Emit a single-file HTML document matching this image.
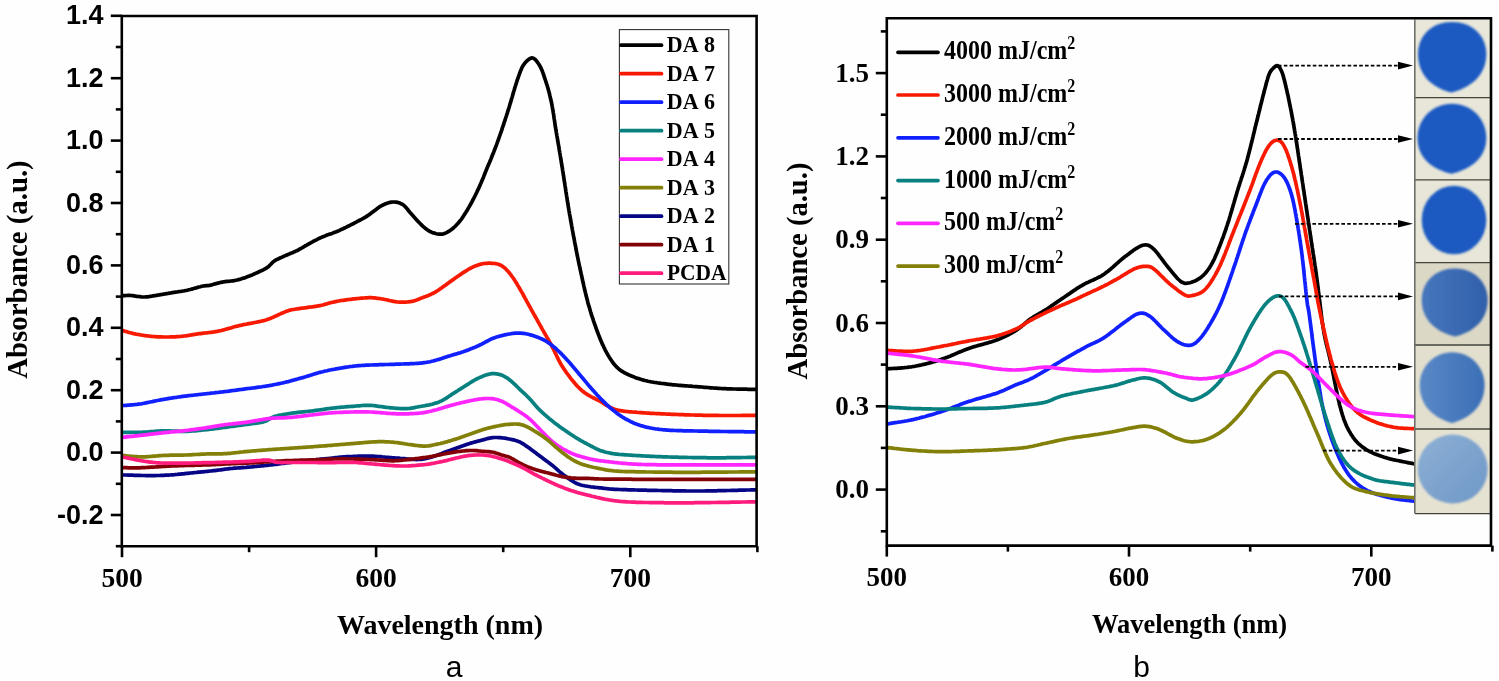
<!DOCTYPE html>
<html><head><meta charset="utf-8"><title>Absorbance spectra</title>
<style>html,body{margin:0;padding:0;background:#fff;}svg{display:block;will-change:transform;}.ser{font-family:"Liberation Serif",serif;font-weight:bold;}.san{font-family:"Liberation Sans",sans-serif;}</style>
</head><body>
<svg width="1499" height="681" viewBox="0 0 1499 681">
<rect width="1499" height="681" fill="#fefefe"/>
<defs><filter id="bl" x="-10%" y="-10%" width="120%" height="120%"><feGaussianBlur stdDeviation="0.9"/></filter><filter id="bl2" x="-10%" y="-10%" width="120%" height="120%"><feGaussianBlur stdDeviation="1.6"/></filter><clipPath id="clipA"><rect x="122" y="16" width="635" height="530"/></clipPath><clipPath id="clipB"><rect x="887" y="18" width="528" height="528"/></clipPath></defs>
<g clip-path="url(#clipA)" fill="none" stroke-width="3.7" stroke-linejoin="round" stroke-linecap="round">
<path d="M122.0,295.9L123.6,295.7L125.0,295.6L126.5,295.5L128.0,295.4L129.5,295.4L131.0,295.5L132.5,295.6L133.9,295.8L135.4,296.1L136.9,296.3L138.4,296.5L139.9,296.7L141.4,296.9L142.9,297.0L144.4,297.0L145.9,296.9L147.4,296.8L148.8,296.6L150.3,296.3L151.8,296.1L153.3,295.8L154.8,295.6L156.3,295.4L157.7,295.1L159.2,294.9L160.7,294.6L162.2,294.4L163.7,294.1L165.1,293.9L166.6,293.6L168.1,293.4L169.6,293.1L171.0,292.9L172.5,292.6L174.0,292.4L175.5,292.2L177.0,292.0L178.5,291.7L179.9,291.5L181.4,291.3L182.9,291.0L184.4,290.8L185.9,290.5L187.3,290.2L188.8,289.8L190.2,289.5L191.7,289.1L193.1,288.7L194.6,288.3L196.0,287.9L197.5,287.4L198.9,287.0L200.4,286.7L201.8,286.3L203.3,286.0L204.8,285.8L206.3,285.7L207.8,285.6L209.2,285.4L210.7,285.1L212.2,284.7L213.6,284.3L215.1,283.9L216.5,283.5L218.0,283.1L219.4,282.7L220.9,282.4L222.3,282.1L223.8,281.8L225.3,281.6L226.8,281.4L228.3,281.3L229.8,281.2L231.3,281.0L232.8,280.8L234.2,280.6L235.7,280.3L237.2,280.0L238.6,279.6L240.1,279.2L241.5,278.8L242.9,278.3L244.4,277.9L245.8,277.4L247.2,276.8L248.6,276.3L250.0,275.8L251.4,275.2L252.8,274.6L254.1,274.0L255.5,273.4L256.9,272.8L258.2,272.2L259.6,271.5L261.0,270.9L262.3,270.3L263.7,269.6L265.0,268.9L266.3,268.2L267.5,267.3L268.7,266.4L269.8,265.3L270.8,264.3L271.8,263.2L272.9,262.2L274.1,261.2L275.3,260.4L276.6,259.6L278.0,259.0L279.3,258.3L280.7,257.7L282.1,257.1L283.4,256.5L284.8,255.9L286.2,255.3L287.5,254.7L288.9,254.1L290.3,253.5L291.7,252.9L293.1,252.4L294.5,251.7L295.8,251.1L297.2,250.5L298.5,249.8L299.8,249.0L301.1,248.3L302.4,247.6L303.7,246.8L305.0,246.0L306.3,245.3L307.6,244.5L308.9,243.8L310.2,243.1L311.5,242.4L312.9,241.7L314.2,240.9L315.5,240.3L316.9,239.6L318.2,238.9L319.5,238.2L320.9,237.6L322.3,237.0L323.7,236.4L325.1,235.9L326.5,235.3L327.9,234.8L329.3,234.3L330.7,233.9L332.1,233.4L333.5,232.8L334.9,232.3L336.3,231.8L337.7,231.2L339.1,230.6L340.4,229.9L341.8,229.3L343.2,228.7L344.5,228.0L345.9,227.4L347.2,226.7L348.6,226.0L349.9,225.4L351.2,224.7L352.6,224.0L353.9,223.3L355.2,222.6L356.6,221.9L357.9,221.2L359.2,220.5L360.5,219.8L361.9,219.1L363.2,218.4L364.5,217.6L365.8,216.9L367.0,216.1L368.3,215.2L369.5,214.4L370.7,213.5L371.9,212.6L373.1,211.7L374.3,210.8L375.5,209.9L376.7,209.0L377.9,208.1L379.1,207.2L380.4,206.4L381.7,205.7L383.0,205.0L384.4,204.3L385.7,203.7L387.2,203.2L388.6,202.7L390.0,202.4L391.5,202.1L393.0,202.0L394.5,202.0L396.0,202.2L397.5,202.4L398.9,202.8L400.3,203.3L401.7,204.0L402.9,204.7L404.1,205.7L405.2,206.7L406.2,207.8L407.2,208.9L408.1,210.1L409.0,211.3L410.0,212.4L411.0,213.6L412.0,214.7L413.0,215.8L414.0,216.9L415.0,218.1L416.0,219.2L417.0,220.3L418.0,221.4L419.1,222.5L420.1,223.5L421.2,224.6L422.2,225.6L423.3,226.7L424.5,227.7L425.6,228.6L426.8,229.5L428.1,230.3L429.4,231.1L430.7,231.8L432.1,232.4L433.5,232.9L434.9,233.3L436.3,233.7L437.8,234.0L439.3,234.2L440.8,234.2L442.3,234.1L443.7,233.7L445.1,233.2L446.5,232.6L447.8,231.9L449.1,231.1L450.3,230.3L451.5,229.4L452.7,228.5L453.9,227.5L455.0,226.5L456.0,225.4L457.1,224.3L458.1,223.2L459.1,222.1L460.0,220.9L460.9,219.8L461.8,218.6L462.7,217.3L463.5,216.1L464.3,214.8L465.1,213.5L465.9,212.3L466.7,211.0L467.5,209.7L468.2,208.4L469.0,207.1L469.7,205.8L470.5,204.5L471.2,203.2L471.9,201.9L472.6,200.5L473.3,199.2L474.0,197.9L474.7,196.5L475.3,195.2L476.0,193.9L476.7,192.5L477.3,191.1L477.9,189.8L478.6,188.4L479.2,187.1L479.8,185.7L480.4,184.3L481.0,183.0L481.6,181.6L482.2,180.2L482.8,178.8L483.4,177.4L483.9,176.0L484.5,174.6L485.0,173.2L485.6,171.8L486.1,170.4L486.7,169.0L487.2,167.7L487.8,166.3L488.4,164.9L489.0,163.5L489.6,162.2L490.2,160.8L490.8,159.4L491.3,158.0L491.9,156.6L492.4,155.2L493.0,153.8L493.6,152.4L494.1,151.0L494.7,149.6L495.2,148.2L495.7,146.8L496.3,145.4L496.8,144.0L497.3,142.6L497.8,141.2L498.3,139.8L498.8,138.4L499.3,137.0L499.8,135.5L500.3,134.1L500.8,132.7L501.3,131.3L501.8,129.9L502.2,128.4L502.7,127.0L503.2,125.6L503.7,124.2L504.1,122.7L504.6,121.3L505.1,119.9L505.5,118.5L506.0,117.0L506.5,115.6L506.9,114.2L507.4,112.8L507.8,111.3L508.3,109.9L508.7,108.5L509.2,107.0L509.6,105.6L510.0,104.2L510.5,102.7L510.9,101.3L511.3,99.8L511.7,98.4L512.2,97.0L512.6,95.5L513.0,94.1L513.4,92.6L513.8,91.2L514.3,89.8L514.7,88.3L515.1,86.9L515.6,85.5L516.0,84.0L516.5,82.6L516.9,81.2L517.4,79.7L517.9,78.3L518.4,76.9L518.9,75.5L519.4,74.1L519.9,72.7L520.4,71.3L521.0,69.9L521.6,68.5L522.2,67.1L523.0,65.8L523.8,64.6L524.7,63.4L525.6,62.2L526.7,61.1L527.8,60.1L529.0,59.2L530.2,58.4L531.5,57.9L532.9,58.0L534.1,58.7L535.3,59.6L536.3,60.7L537.2,61.9L538.1,63.1L538.9,64.4L539.7,65.6L540.4,66.9L541.1,68.3L541.7,69.7L542.3,71.1L542.8,72.5L543.3,73.9L543.8,75.3L544.2,76.7L544.7,78.1L545.2,79.6L545.7,81.0L546.1,82.4L546.6,83.8L547.1,85.3L547.5,86.7L547.9,88.1L548.3,89.6L548.7,91.0L549.1,92.5L549.5,93.9L549.8,95.4L550.2,96.9L550.5,98.3L550.8,99.8L551.2,101.2L551.5,102.7L551.8,104.2L552.1,105.7L552.3,107.1L552.6,108.6L552.9,110.1L553.1,111.6L553.3,113.0L553.6,114.5L553.8,116.0L554.0,117.5L554.2,119.0L554.5,120.5L554.7,122.0L554.9,123.4L555.1,124.9L555.3,126.4L555.6,127.9L555.8,129.4L556.1,130.8L556.3,132.3L556.6,133.8L556.8,135.3L557.1,136.8L557.3,138.2L557.6,139.7L557.8,141.2L558.1,142.7L558.3,144.2L558.6,145.6L558.9,147.1L559.1,148.6L559.3,150.1L559.6,151.6L559.8,153.0L560.1,154.5L560.3,156.0L560.6,157.5L560.8,159.0L561.1,160.4L561.3,161.9L561.5,163.4L561.8,164.9L562.0,166.4L562.3,167.8L562.5,169.3L562.7,170.8L563.0,172.3L563.2,173.8L563.4,175.2L563.7,176.7L563.9,178.2L564.1,179.7L564.3,181.2L564.6,182.7L564.8,184.1L565.0,185.6L565.3,187.1L565.5,188.6L565.7,190.1L565.9,191.6L566.2,193.0L566.4,194.5L566.6,196.0L566.9,197.5L567.1,199.0L567.3,200.5L567.6,201.9L567.8,203.4L568.1,204.9L568.3,206.4L568.5,207.9L568.8,209.3L569.0,210.8L569.3,212.3L569.5,213.8L569.8,215.3L570.1,216.7L570.3,218.2L570.6,219.7L570.8,221.2L571.1,222.6L571.4,224.1L571.6,225.6L571.9,227.1L572.2,228.5L572.4,230.0L572.7,231.5L573.0,233.0L573.2,234.4L573.5,235.9L573.8,237.4L574.1,238.9L574.4,240.3L574.6,241.8L574.9,243.3L575.2,244.8L575.5,246.2L575.8,247.7L576.0,249.2L576.3,250.7L576.6,252.1L576.9,253.6L577.2,255.1L577.5,256.5L577.8,258.0L578.1,259.5L578.4,261.0L578.7,262.4L579.0,263.9L579.3,265.4L579.7,266.8L580.0,268.3L580.3,269.8L580.6,271.2L580.9,272.7L581.2,274.2L581.6,275.6L581.9,277.1L582.2,278.6L582.5,280.0L582.8,281.5L583.2,283.0L583.5,284.4L583.8,285.9L584.2,287.3L584.5,288.8L584.8,290.3L585.2,291.7L585.5,293.2L585.9,294.6L586.2,296.1L586.6,297.6L587.0,299.0L587.4,300.5L587.7,301.9L588.1,303.4L588.5,304.8L588.9,306.2L589.4,307.7L589.8,309.1L590.2,310.6L590.6,312.0L591.1,313.4L591.5,314.9L592.0,316.3L592.5,317.7L593.0,319.1L593.4,320.6L593.9,322.0L594.4,323.4L594.9,324.8L595.4,326.2L595.9,327.6L596.4,329.1L596.9,330.5L597.5,331.9L598.0,333.3L598.5,334.7L599.1,336.1L599.6,337.5L600.2,338.9L600.7,340.3L601.3,341.6L601.9,343.0L602.5,344.4L603.2,345.7L603.8,347.1L604.5,348.4L605.1,349.8L605.8,351.1L606.5,352.4L607.3,353.8L608.0,355.1L608.8,356.4L609.5,357.6L610.3,358.9L611.2,360.1L612.0,361.4L612.9,362.6L613.8,363.8L614.8,364.9L615.8,366.1L616.8,367.2L617.9,368.2L619.0,369.2L620.2,370.1L621.4,370.9L622.7,371.7L624.0,372.5L625.3,373.2L626.7,373.8L628.0,374.5L629.4,375.1L630.8,375.7L632.2,376.3L633.6,376.8L635.0,377.4L636.4,377.9L637.8,378.4L639.2,378.8L640.6,379.3L642.1,379.7L643.5,380.1L645.0,380.5L646.4,380.8L647.9,381.2L649.4,381.5L650.8,381.8L652.3,382.0L653.8,382.3L655.3,382.5L656.8,382.7L658.2,383.0L659.7,383.2L661.2,383.4L662.7,383.5L664.2,383.7L665.7,383.9L667.2,384.1L668.7,384.3L670.2,384.4L671.7,384.6L673.1,384.8L674.6,384.9L676.1,385.0L677.6,385.2L679.1,385.3L680.6,385.4L682.1,385.6L683.6,385.7L685.1,385.8L686.6,385.9L688.1,386.0L689.6,386.1L691.1,386.2L692.6,386.4L694.1,386.5L695.6,386.6L697.1,386.7L698.6,386.8L700.1,386.9L701.6,387.0L703.1,387.2L704.5,387.3L706.0,387.4L707.5,387.5L709.0,387.6L710.5,387.8L712.0,387.9L713.5,388.0L715.0,388.1L716.5,388.2L718.0,388.3L719.5,388.4L721.0,388.5L722.5,388.6L724.0,388.7L725.5,388.7L727.0,388.8L728.5,388.8L730.0,388.9L731.5,388.9L733.0,389.0L734.5,389.0L736.0,389.0L737.5,389.1L739.0,389.1L740.5,389.1L742.0,389.2L743.5,389.2L745.0,389.2L746.5,389.2L748.0,389.3L749.5,389.3L751.0,389.3L752.5,389.3L754.0,389.4L755.2,389.4L756.0,389.4" stroke="#000000"/>
<path d="M122.0,330.4L123.8,330.9L125.0,331.3L126.3,331.6L127.8,332.1L129.2,332.5L130.7,332.8L132.1,333.2L133.6,333.6L135.0,333.9L136.5,334.2L138.0,334.5L139.5,334.7L140.9,335.0L142.4,335.2L143.9,335.5L145.4,335.7L146.9,335.8L148.4,336.0L149.9,336.2L151.3,336.3L152.8,336.5L154.3,336.6L155.8,336.7L157.3,336.8L158.8,336.8L160.3,336.9L161.8,336.9L163.3,337.0L164.8,337.0L166.3,337.0L167.8,337.0L169.3,337.0L170.8,336.9L172.3,336.9L173.8,336.8L175.3,336.8L176.8,336.7L178.3,336.6L179.8,336.5L181.3,336.3L182.8,336.2L184.3,336.0L185.8,335.8L187.3,335.6L188.7,335.3L190.2,335.1L191.7,334.8L193.2,334.6L194.7,334.4L196.2,334.2L197.6,333.9L199.1,333.7L200.6,333.6L202.1,333.4L203.6,333.2L205.1,333.0L206.6,332.8L208.1,332.7L209.5,332.5L211.0,332.3L212.5,332.1L214.0,331.9L215.5,331.6L217.0,331.4L218.4,331.1L219.9,330.8L221.4,330.5L222.8,330.1L224.3,329.7L225.7,329.3L227.2,328.9L228.6,328.5L230.1,328.1L231.5,327.7L232.9,327.2L234.4,326.8L235.8,326.4L237.3,326.1L238.7,325.7L240.2,325.4L241.7,325.1L243.1,324.7L244.6,324.5L246.1,324.2L247.5,323.9L249.0,323.6L250.5,323.3L252.0,323.1L253.4,322.8L254.9,322.5L256.4,322.2L257.9,321.9L259.3,321.6L260.8,321.3L262.3,320.9L263.7,320.6L265.2,320.2L266.6,319.8L268.0,319.3L269.4,318.8L270.8,318.2L272.2,317.6L273.6,317.0L274.9,316.4L276.3,315.8L277.7,315.2L279.0,314.5L280.4,313.9L281.7,313.3L283.1,312.7L284.5,312.1L285.9,311.5L287.3,311.0L288.7,310.6L290.2,310.1L291.6,309.8L293.1,309.5L294.6,309.3L296.1,309.0L297.5,308.8L299.0,308.6L300.5,308.4L302.0,308.2L303.5,308.0L305.0,307.8L306.5,307.6L307.9,307.4L309.4,307.2L310.9,307.0L312.4,306.8L313.9,306.6L315.4,306.4L316.9,306.2L318.3,305.9L319.8,305.7L321.3,305.3L322.7,305.0L324.2,304.6L325.6,304.1L327.0,303.7L328.5,303.2L329.9,302.9L331.4,302.5L332.8,302.2L334.3,301.9L335.8,301.6L337.2,301.3L338.7,301.0L340.2,300.7L341.7,300.5L343.2,300.3L344.6,300.1L346.1,299.9L347.6,299.7L349.1,299.5L350.6,299.3L352.1,299.1L353.6,298.9L355.1,298.8L356.6,298.6L358.1,298.5L359.6,298.3L361.0,298.2L362.5,298.1L364.0,298.0L365.5,297.9L367.0,297.8L368.5,297.7L370.0,297.7L371.5,297.7L373.0,297.8L374.5,297.9L376.0,298.1L377.5,298.3L379.0,298.5L380.5,298.7L381.9,299.0L383.4,299.2L384.9,299.5L386.4,299.8L387.8,300.1L389.3,300.5L390.7,300.8L392.2,301.1L393.7,301.4L395.2,301.7L396.6,301.9L398.1,302.0L399.6,302.1L401.1,302.1L402.6,302.2L404.1,302.1L405.6,302.1L407.1,302.0L408.6,301.8L410.1,301.7L411.6,301.4L413.1,301.1L414.5,300.7L415.9,300.3L417.3,299.8L418.7,299.2L420.1,298.6L421.5,298.1L422.9,297.5L424.3,297.0L425.7,296.5L427.1,295.9L428.5,295.4L429.9,294.8L431.2,294.1L432.6,293.5L433.9,292.8L435.2,292.1L436.5,291.3L437.8,290.5L439.0,289.7L440.3,288.8L441.5,288.0L442.7,287.1L443.9,286.2L445.2,285.4L446.4,284.5L447.6,283.6L448.8,282.7L450.0,281.8L451.2,280.9L452.4,280.1L453.7,279.2L454.9,278.3L456.1,277.5L457.4,276.6L458.6,275.8L459.8,274.9L461.1,274.1L462.3,273.2L463.6,272.4L464.8,271.6L466.1,270.8L467.4,270.0L468.6,269.2L470.0,268.5L471.3,267.8L472.6,267.1L474.0,266.5L475.4,265.9L476.8,265.4L478.2,264.9L479.6,264.5L481.1,264.1L482.5,263.8L484.0,263.5L485.5,263.4L487.0,263.3L488.5,263.2L490.0,263.2L491.5,263.3L493.0,263.3L494.5,263.5L495.9,263.7L497.4,264.0L498.8,264.4L500.2,265.0L501.5,265.7L502.8,266.5L504.0,267.4L505.1,268.3L506.2,269.4L507.2,270.5L508.2,271.6L509.2,272.7L510.1,273.9L511.1,275.1L511.9,276.3L512.8,277.5L513.7,278.7L514.5,280.0L515.3,281.2L516.1,282.5L516.9,283.8L517.6,285.1L518.4,286.4L519.2,287.7L519.9,289.0L520.7,290.3L521.4,291.6L522.2,292.9L522.9,294.2L523.6,295.5L524.3,296.8L525.0,298.1L525.8,299.4L526.5,300.8L527.2,302.1L527.9,303.4L528.6,304.7L529.4,306.0L530.1,307.3L530.8,308.7L531.5,310.0L532.3,311.3L533.0,312.6L533.7,313.9L534.5,315.2L535.2,316.5L535.9,317.8L536.7,319.1L537.4,320.4L538.1,321.8L538.9,323.1L539.6,324.4L540.3,325.7L541.1,327.0L541.8,328.3L542.5,329.6L543.3,330.9L544.0,332.2L544.8,333.5L545.5,334.8L546.3,336.1L547.0,337.4L547.8,338.7L548.5,340.0L549.3,341.3L550.0,342.6L550.7,343.9L551.4,345.2L552.1,346.6L552.8,347.9L553.5,349.3L554.1,350.6L554.8,352.0L555.4,353.3L556.1,354.7L556.7,356.0L557.4,357.4L558.0,358.7L558.7,360.1L559.4,361.4L560.1,362.7L560.8,364.0L561.6,365.3L562.4,366.6L563.2,367.8L564.0,369.1L564.9,370.3L565.7,371.6L566.6,372.8L567.5,374.0L568.4,375.2L569.3,376.4L570.2,377.6L571.1,378.8L572.0,380.0L573.0,381.1L574.0,382.3L574.9,383.4L575.9,384.5L576.9,385.7L577.9,386.7L579.0,387.8L580.1,388.9L581.2,389.9L582.3,390.9L583.5,391.8L584.6,392.7L585.9,393.6L587.1,394.4L588.4,395.2L589.7,395.9L591.0,396.6L592.4,397.3L593.7,398.0L595.0,398.7L596.4,399.3L597.7,400.0L599.0,400.7L600.4,401.5L601.7,402.2L602.9,403.0L604.2,403.8L605.5,404.6L606.7,405.4L608.0,406.2L609.3,406.9L610.7,407.6L612.0,408.2L613.4,408.8L614.8,409.3L616.3,409.7L617.7,410.1L619.2,410.4L620.6,410.7L622.1,410.9L623.6,411.1L625.1,411.3L626.6,411.5L628.1,411.6L629.6,411.8L631.1,411.9L632.6,412.0L634.1,412.1L635.6,412.2L637.1,412.4L638.5,412.5L640.0,412.6L641.5,412.7L643.0,412.8L644.5,412.9L646.0,413.0L647.5,413.1L649.0,413.2L650.5,413.3L652.0,413.4L653.5,413.4L655.0,413.5L656.5,413.6L658.0,413.7L659.5,413.7L661.0,413.8L662.5,413.9L664.0,413.9L665.5,414.0L667.0,414.1L668.5,414.1L670.0,414.2L671.5,414.3L673.0,414.3L674.5,414.4L676.0,414.4L677.5,414.5L679.0,414.6L680.5,414.6L682.0,414.7L683.5,414.7L685.0,414.8L686.5,414.8L688.0,414.9L689.5,414.9L691.0,415.0L692.5,415.0L694.0,415.0L695.5,415.1L697.0,415.1L698.5,415.2L700.0,415.2L701.5,415.2L703.0,415.3L704.5,415.3L706.0,415.3L707.5,415.3L709.0,415.4L710.5,415.4L712.0,415.4L713.5,415.4L715.0,415.4L716.5,415.4L718.0,415.4L719.5,415.5L721.0,415.5L722.5,415.5L724.0,415.5L725.5,415.5L727.0,415.5L728.5,415.5L730.0,415.5L731.5,415.5L733.0,415.5L734.5,415.5L736.0,415.5L737.5,415.5L739.0,415.5L740.5,415.5L742.0,415.4L743.5,415.4L745.0,415.4L746.5,415.4L748.0,415.4L749.5,415.4L751.0,415.4L752.4,415.4L753.8,415.4L754.9,415.4L756.0,415.4" stroke="#f81a00"/>
<path d="M122.0,405.6L123.8,405.5L125.1,405.4L126.5,405.3L128.0,405.2L129.5,405.1L131.0,404.9L132.5,404.8L134.0,404.7L135.5,404.5L137.0,404.4L138.4,404.2L139.9,404.0L141.4,403.8L142.9,403.5L144.4,403.2L145.8,402.9L147.3,402.6L148.8,402.3L150.2,402.0L151.7,401.7L153.2,401.4L154.6,401.1L156.1,400.8L157.6,400.5L159.1,400.2L160.5,399.9L162.0,399.6L163.5,399.4L165.0,399.1L166.4,398.9L167.9,398.6L169.4,398.4L170.9,398.2L172.4,397.9L173.9,397.7L175.3,397.5L176.8,397.3L178.3,397.0L179.8,396.8L181.3,396.6L182.8,396.4L184.3,396.2L185.7,396.1L187.2,395.9L188.7,395.7L190.2,395.5L191.7,395.3L193.2,395.2L194.7,395.0L196.2,394.8L197.7,394.7L199.2,394.5L200.6,394.3L202.1,394.2L203.6,394.0L205.1,393.8L206.6,393.7L208.1,393.5L209.6,393.4L211.1,393.2L212.6,393.0L214.1,392.9L215.6,392.7L217.1,392.5L218.5,392.4L220.0,392.2L221.5,392.0L223.0,391.8L224.5,391.6L226.0,391.5L227.5,391.3L229.0,391.1L230.5,390.9L231.9,390.7L233.4,390.5L234.9,390.3L236.4,390.1L237.9,389.9L239.4,389.7L240.9,389.5L242.4,389.3L243.8,389.1L245.3,388.9L246.8,388.7L248.3,388.5L249.8,388.3L251.3,388.2L252.8,388.0L254.3,387.8L255.7,387.6L257.2,387.4L258.7,387.2L260.2,387.0L261.7,386.8L263.2,386.5L264.7,386.3L266.1,386.1L267.6,385.8L269.1,385.6L270.6,385.3L272.1,385.1L273.5,384.8L275.0,384.5L276.5,384.2L277.9,383.9L279.4,383.6L280.9,383.3L282.3,383.0L283.8,382.6L285.3,382.3L286.7,381.9L288.2,381.6L289.6,381.2L291.1,380.8L292.5,380.4L294.0,380.0L295.4,379.6L296.9,379.2L298.3,378.8L299.8,378.4L301.2,378.0L302.7,377.6L304.1,377.2L305.5,376.8L307.0,376.3L308.4,375.9L309.8,375.4L311.3,375.0L312.7,374.5L314.1,374.1L315.6,373.6L317.0,373.2L318.4,372.8L319.9,372.4L321.3,372.0L322.8,371.7L324.3,371.3L325.7,371.0L327.2,370.7L328.7,370.3L330.1,370.0L331.6,369.7L333.1,369.5L334.5,369.2L336.0,368.9L337.5,368.6L339.0,368.4L340.4,368.1L341.9,367.9L343.4,367.6L344.9,367.4L346.4,367.2L347.9,367.0L349.3,366.7L350.8,366.5L352.3,366.4L353.8,366.2L355.3,366.0L356.8,365.8L358.3,365.7L359.8,365.6L361.3,365.5L362.8,365.4L364.3,365.3L365.8,365.2L367.3,365.2L368.8,365.1L370.3,365.0L371.8,365.0L373.3,364.9L374.8,364.9L376.3,364.8L377.8,364.8L379.3,364.7L380.8,364.7L382.3,364.6L383.8,364.6L385.3,364.5L386.8,364.5L388.3,364.5L389.8,364.4L391.3,364.4L392.8,364.3L394.3,364.3L395.8,364.2L397.3,364.2L398.8,364.1L400.3,364.1L401.8,364.0L403.3,364.0L404.8,363.9L406.3,363.9L407.8,363.8L409.3,363.8L410.8,363.7L412.3,363.7L413.8,363.6L415.3,363.5L416.7,363.4L418.2,363.3L419.7,363.2L421.2,363.1L422.7,362.9L424.2,362.7L425.7,362.5L427.2,362.2L428.6,362.0L430.1,361.7L431.6,361.3L433.0,361.0L434.5,360.6L435.9,360.2L437.4,359.8L438.8,359.4L440.3,358.9L441.7,358.5L443.1,358.0L444.5,357.5L445.9,357.0L447.4,356.6L448.8,356.1L450.2,355.7L451.7,355.2L453.1,354.8L454.6,354.4L456.0,354.0L457.4,353.6L458.9,353.1L460.3,352.7L461.7,352.2L463.2,351.8L464.6,351.3L466.0,350.8L467.4,350.2L468.8,349.7L470.2,349.1L471.6,348.6L473.0,348.0L474.4,347.4L475.7,346.9L477.1,346.3L478.5,345.7L479.8,345.0L481.2,344.4L482.5,343.7L483.9,343.0L485.2,342.2L486.5,341.5L487.8,340.8L489.1,340.1L490.4,339.4L491.8,338.8L493.2,338.2L494.6,337.7L496.0,337.2L497.4,336.8L498.9,336.4L500.3,336.0L501.8,335.6L503.2,335.2L504.7,334.9L506.2,334.6L507.6,334.3L509.1,334.0L510.6,333.8L512.1,333.5L513.6,333.3L515.1,333.2L516.6,333.1L518.1,333.1L519.6,333.1L521.0,333.1L522.5,333.3L524.0,333.4L525.5,333.7L527.0,334.0L528.4,334.3L529.9,334.7L531.3,335.1L532.8,335.5L534.2,336.0L535.6,336.5L537.0,337.0L538.4,337.5L539.8,338.1L541.2,338.7L542.5,339.3L543.9,340.0L545.2,340.7L546.5,341.5L547.7,342.3L549.0,343.1L550.2,344.0L551.4,344.9L552.6,345.8L553.8,346.8L554.9,347.7L556.0,348.7L557.1,349.8L558.2,350.8L559.3,351.8L560.4,352.9L561.4,353.9L562.5,355.0L563.5,356.1L564.6,357.2L565.6,358.3L566.6,359.4L567.6,360.5L568.6,361.6L569.6,362.7L570.6,363.8L571.6,365.0L572.5,366.1L573.5,367.3L574.5,368.4L575.4,369.6L576.4,370.7L577.4,371.9L578.3,373.0L579.3,374.2L580.3,375.3L581.2,376.5L582.2,377.6L583.2,378.8L584.1,379.9L585.1,381.1L586.0,382.2L587.0,383.4L588.0,384.5L588.9,385.7L589.9,386.8L590.9,388.0L591.9,389.1L592.9,390.2L593.9,391.3L594.9,392.4L595.9,393.6L596.9,394.7L597.9,395.7L599.0,396.8L600.0,397.9L601.0,399.0L602.1,400.1L603.1,401.1L604.2,402.2L605.3,403.2L606.4,404.3L607.5,405.3L608.6,406.3L609.7,407.3L610.8,408.3L612.0,409.2L613.1,410.2L614.3,411.1L615.5,412.1L616.7,413.0L617.9,413.9L619.1,414.8L620.3,415.6L621.6,416.5L622.8,417.3L624.1,418.0L625.4,418.8L626.7,419.5L628.0,420.2L629.4,420.9L630.7,421.6L632.1,422.2L633.4,422.9L634.8,423.4L636.2,424.0L637.6,424.5L639.0,425.0L640.5,425.5L641.9,425.9L643.3,426.3L644.8,426.7L646.2,427.1L647.7,427.4L649.2,427.7L650.6,428.0L652.1,428.3L653.6,428.5L655.1,428.8L656.6,429.0L658.0,429.2L659.5,429.4L661.0,429.5L662.5,429.7L664.0,429.8L665.5,429.9L667.0,430.1L668.5,430.2L670.0,430.3L671.5,430.3L673.0,430.4L674.5,430.5L676.0,430.5L677.5,430.6L679.0,430.6L680.5,430.7L682.0,430.7L683.5,430.8L685.0,430.8L686.5,430.8L688.0,430.9L689.5,430.9L691.0,430.9L692.5,430.9L694.0,431.0L695.5,431.0L697.0,431.0L698.5,431.1L700.0,431.1L701.5,431.1L703.0,431.2L704.5,431.2L706.0,431.2L707.5,431.2L709.0,431.3L710.5,431.3L712.0,431.3L713.5,431.3L715.0,431.4L716.5,431.4L718.0,431.4L719.5,431.4L721.0,431.5L722.5,431.5L724.0,431.5L725.5,431.5L727.0,431.5L728.5,431.6L730.0,431.6L731.5,431.6L733.0,431.6L734.5,431.6L736.0,431.6L737.5,431.7L739.0,431.7L740.5,431.7L742.0,431.7L743.5,431.7L745.0,431.8L746.5,431.8L748.0,431.8L749.5,431.8L751.0,431.8L752.4,431.9L753.8,431.9L754.9,431.9L756.0,431.9" stroke="#1020ff"/>
<path d="M122.0,432.3L123.8,432.3L125.1,432.3L126.5,432.3L128.0,432.4L129.5,432.4L131.0,432.4L132.5,432.4L134.0,432.4L135.5,432.4L137.0,432.4L138.5,432.4L140.0,432.3L141.5,432.3L143.0,432.2L144.5,432.2L146.0,432.1L147.5,432.0L149.0,431.8L150.5,431.7L152.0,431.6L153.5,431.5L155.0,431.3L156.5,431.2L158.0,431.1L159.5,431.0L161.0,430.9L162.5,430.9L164.0,430.8L165.5,430.8L167.0,430.8L168.5,430.8L170.0,430.9L171.5,431.0L173.0,431.0L174.5,431.1L175.9,431.2L177.4,431.2L178.9,431.3L180.4,431.4L181.9,431.4L183.4,431.4L184.9,431.4L186.4,431.4L187.9,431.3L189.4,431.2L190.9,431.1L192.4,431.0L193.9,430.9L195.4,430.8L196.9,430.7L198.4,430.5L199.9,430.4L201.4,430.2L202.9,430.0L204.4,429.9L205.9,429.7L207.4,429.6L208.9,429.4L210.3,429.2L211.8,429.1L213.3,428.9L214.8,428.7L216.3,428.5L217.8,428.3L219.3,428.1L220.8,427.9L222.3,427.7L223.7,427.5L225.2,427.3L226.7,427.1L228.2,426.9L229.7,426.7L231.2,426.5L232.7,426.3L234.2,426.1L235.6,425.9L237.1,425.7L238.6,425.5L240.1,425.3L241.6,425.1L243.1,424.9L244.6,424.7L246.1,424.5L247.5,424.3L249.0,424.1L250.5,423.9L252.0,423.7L253.5,423.5L255.0,423.3L256.5,423.1L257.9,422.9L259.4,422.6L260.9,422.4L262.4,422.1L263.8,421.7L265.2,421.3L266.6,420.7L267.9,420.0L269.2,419.2L270.4,418.4L271.7,417.7L273.1,417.1L274.5,416.6L275.9,416.1L277.4,415.8L278.8,415.4L280.3,415.1L281.8,414.9L283.2,414.6L284.7,414.3L286.2,414.1L287.7,413.8L289.2,413.6L290.6,413.4L292.1,413.2L293.6,412.9L295.1,412.8L296.6,412.6L298.1,412.4L299.6,412.2L301.1,412.1L302.6,411.9L304.1,411.8L305.5,411.6L307.0,411.5L308.5,411.3L310.0,411.1L311.5,411.0L313.0,410.8L314.5,410.6L316.0,410.4L317.5,410.2L318.9,410.0L320.4,409.8L321.9,409.6L323.4,409.4L324.9,409.1L326.4,408.9L327.9,408.7L329.3,408.5L330.8,408.3L332.3,408.1L333.8,408.0L335.3,407.8L336.8,407.6L338.3,407.5L339.8,407.3L341.3,407.2L342.8,407.1L344.3,407.0L345.8,406.8L347.3,406.7L348.8,406.6L350.3,406.5L351.7,406.4L353.2,406.3L354.7,406.2L356.2,406.0L357.7,405.9L359.2,405.8L360.7,405.7L362.2,405.5L363.7,405.4L365.2,405.4L366.7,405.3L368.2,405.3L369.7,405.4L371.2,405.4L372.7,405.5L374.2,405.7L375.7,405.9L377.2,406.1L378.6,406.3L380.1,406.5L381.6,406.7L383.1,406.9L384.6,407.1L386.1,407.3L387.6,407.5L389.1,407.6L390.6,407.8L392.1,407.9L393.5,408.0L395.0,408.2L396.5,408.3L398.0,408.4L399.5,408.5L401.0,408.6L402.5,408.6L404.0,408.7L405.5,408.7L407.0,408.6L408.5,408.5L410.0,408.3L411.5,408.1L413.0,407.9L414.4,407.6L415.9,407.3L417.4,407.0L418.9,406.7L420.3,406.5L421.8,406.2L423.3,406.0L424.8,405.7L426.2,405.4L427.7,405.2L429.2,404.9L430.7,404.5L432.1,404.2L433.6,403.8L435.0,403.3L436.4,402.9L437.8,402.4L439.2,401.9L440.6,401.3L442.0,400.6L443.3,399.9L444.6,399.2L445.9,398.4L447.1,397.6L448.4,396.7L449.6,395.9L450.9,395.1L452.1,394.2L453.4,393.4L454.6,392.6L455.9,391.8L457.2,391.0L458.4,390.2L459.7,389.4L461.0,388.6L462.2,387.8L463.5,387.0L464.8,386.2L466.0,385.4L467.3,384.6L468.6,383.8L469.8,383.0L471.1,382.2L472.4,381.4L473.7,380.6L475.0,379.9L476.3,379.2L477.6,378.5L479.0,377.9L480.4,377.2L481.7,376.7L483.1,376.1L484.5,375.6L486.0,375.1L487.4,374.6L488.8,374.2L490.3,373.9L491.8,373.7L493.2,373.6L494.7,373.7L496.2,373.8L497.7,374.1L499.2,374.4L500.6,374.8L502.0,375.3L503.4,375.9L504.7,376.6L506.0,377.3L507.3,378.1L508.5,379.0L509.7,379.9L510.9,380.8L512.0,381.8L513.1,382.8L514.2,383.8L515.3,384.8L516.3,385.9L517.4,387.0L518.5,388.0L519.5,389.1L520.6,390.1L521.7,391.2L522.8,392.2L523.9,393.2L525.0,394.2L526.1,395.2L527.2,396.3L528.3,397.3L529.3,398.4L530.3,399.5L531.3,400.6L532.3,401.7L533.3,402.9L534.3,404.0L535.2,405.2L536.2,406.3L537.2,407.4L538.2,408.5L539.3,409.6L540.3,410.7L541.4,411.7L542.5,412.7L543.6,413.7L544.7,414.7L545.9,415.7L547.0,416.7L548.2,417.6L549.3,418.6L550.5,419.6L551.7,420.5L552.8,421.4L554.0,422.4L555.2,423.3L556.4,424.2L557.6,425.1L558.8,426.0L560.0,426.9L561.2,427.8L562.4,428.6L563.7,429.5L564.9,430.3L566.1,431.2L567.4,432.0L568.6,432.9L569.9,433.7L571.1,434.5L572.4,435.3L573.6,436.2L574.9,437.0L576.2,437.8L577.5,438.5L578.8,439.3L580.0,440.1L581.3,440.8L582.7,441.5L584.0,442.3L585.3,443.0L586.6,443.7L587.9,444.4L589.3,445.1L590.6,445.8L591.9,446.5L593.2,447.2L594.6,447.9L595.9,448.6L597.3,449.2L598.6,449.8L600.0,450.4L601.4,450.9L602.9,451.3L604.3,451.8L605.8,452.2L607.2,452.5L608.7,452.8L610.1,453.1L611.6,453.4L613.1,453.7L614.6,453.9L616.1,454.1L617.6,454.2L619.0,454.4L620.5,454.5L622.0,454.6L623.5,454.7L625.0,454.8L626.5,454.9L628.0,455.0L629.5,455.1L631.0,455.2L632.5,455.3L634.0,455.4L635.5,455.5L637.0,455.6L638.5,455.6L640.0,455.7L641.5,455.8L643.0,455.9L644.5,456.0L646.0,456.1L647.5,456.1L649.0,456.2L650.5,456.3L652.0,456.4L653.5,456.4L655.0,456.5L656.5,456.6L658.0,456.6L659.5,456.7L661.0,456.7L662.5,456.8L664.0,456.9L665.5,456.9L667.0,456.9L668.5,457.0L670.0,457.0L671.5,457.1L673.0,457.1L674.5,457.2L676.0,457.2L677.5,457.2L679.0,457.3L680.5,457.3L682.0,457.3L683.5,457.4L685.0,457.4L686.5,457.4L688.0,457.5L689.5,457.5L691.0,457.5L692.5,457.6L694.0,457.6L695.5,457.6L697.0,457.6L698.5,457.7L700.0,457.7L701.5,457.7L703.0,457.7L704.5,457.7L706.0,457.7L707.5,457.8L709.0,457.8L710.5,457.8L712.0,457.8L713.5,457.8L715.0,457.8L716.5,457.8L718.0,457.8L719.5,457.8L721.0,457.8L722.5,457.8L724.0,457.8L725.5,457.8L727.0,457.7L728.5,457.7L730.0,457.7L731.5,457.7L733.0,457.7L734.5,457.7L736.0,457.6L737.5,457.6L739.0,457.6L740.5,457.6L742.0,457.5L743.5,457.5L745.0,457.5L746.5,457.5L748.0,457.4L749.5,457.4L751.0,457.4L752.4,457.4L753.8,457.3L754.9,457.3L756.0,457.3" stroke="#088080"/>
<path d="M122.0,437.4L123.8,437.2L125.1,437.1L126.5,436.9L128.0,436.7L129.5,436.6L131.0,436.4L132.4,436.3L133.9,436.1L135.4,435.9L136.9,435.8L138.4,435.6L139.9,435.4L141.4,435.3L142.9,435.1L144.4,434.9L145.9,434.8L147.4,434.6L148.9,434.4L150.3,434.2L151.8,434.1L153.3,433.9L154.8,433.7L156.3,433.6L157.8,433.4L159.3,433.2L160.8,433.1L162.3,432.9L163.8,432.7L165.3,432.6L166.8,432.4L168.3,432.3L169.7,432.1L171.2,432.0L172.7,431.8L174.2,431.7L175.7,431.6L177.2,431.4L178.7,431.3L180.2,431.1L181.7,431.0L183.2,430.8L184.7,430.6L186.2,430.5L187.7,430.3L189.2,430.1L190.6,429.9L192.1,429.7L193.6,429.5L195.1,429.3L196.6,429.1L198.1,428.9L199.6,428.7L201.1,428.5L202.5,428.3L204.0,428.1L205.5,427.9L207.0,427.6L208.5,427.4L210.0,427.2L211.4,426.9L212.9,426.7L214.4,426.4L215.9,426.2L217.4,425.9L218.8,425.7L220.3,425.4L221.8,425.2L223.3,425.0L224.8,424.7L226.3,424.5L227.8,424.4L229.2,424.2L230.7,424.0L232.2,423.9L233.7,423.7L235.2,423.6L236.7,423.4L238.2,423.2L239.7,423.1L241.2,422.9L242.7,422.7L244.2,422.6L245.7,422.4L247.1,422.2L248.6,421.9L250.1,421.7L251.6,421.4L253.1,421.2L254.5,420.9L256.0,420.6L257.5,420.4L259.0,420.1L260.4,419.8L261.9,419.6L263.4,419.3L264.9,419.1L266.4,418.9L267.9,418.7L269.3,418.5L270.8,418.3L272.3,418.2L273.8,418.1L275.3,418.1L276.8,418.0L278.3,417.9L279.8,417.9L281.3,417.8L282.8,417.8L284.3,417.8L285.8,417.7L287.3,417.6L288.8,417.5L290.3,417.4L291.8,417.3L293.3,417.2L294.8,417.0L296.3,416.9L297.8,416.7L299.3,416.5L300.8,416.3L302.3,416.1L303.8,415.9L305.2,415.7L306.7,415.6L308.2,415.4L309.7,415.2L311.2,415.0L312.7,414.8L314.2,414.7L315.7,414.5L317.2,414.3L318.7,414.1L320.1,414.0L321.6,413.8L323.1,413.6L324.6,413.4L326.1,413.3L327.6,413.2L329.1,413.0L330.6,412.9L332.1,412.8L333.6,412.7L335.1,412.6L336.6,412.5L338.1,412.5L339.6,412.4L341.1,412.3L342.6,412.3L344.1,412.2L345.6,412.2L347.1,412.1L348.6,412.1L350.1,412.0L351.6,412.0L353.1,412.0L354.6,411.9L356.1,411.9L357.6,411.9L359.1,411.9L360.6,411.9L362.1,411.9L363.6,411.9L365.1,411.9L366.6,411.9L368.1,411.9L369.6,412.0L371.1,412.0L372.6,412.1L374.1,412.2L375.6,412.3L377.1,412.4L378.6,412.5L380.1,412.6L381.6,412.8L383.1,412.9L384.6,413.0L386.1,413.1L387.6,413.3L389.1,413.4L390.6,413.5L392.1,413.6L393.6,413.7L395.1,413.7L396.6,413.8L398.1,413.8L399.6,413.8L401.1,413.8L402.6,413.8L404.1,413.8L405.6,413.8L407.1,413.8L408.6,413.8L410.1,413.7L411.6,413.6L413.1,413.6L414.6,413.5L416.1,413.4L417.6,413.3L419.1,413.2L420.5,413.0L422.0,412.8L423.5,412.6L425.0,412.4L426.5,412.1L428.0,411.8L429.4,411.5L430.9,411.2L432.3,410.8L433.8,410.4L435.2,410.0L436.7,409.7L438.1,409.2L439.6,408.8L441.0,408.4L442.4,407.9L443.9,407.5L445.3,407.0L446.7,406.6L448.2,406.2L449.6,405.8L451.1,405.4L452.5,405.0L454.0,404.6L455.4,404.2L456.9,403.8L458.3,403.5L459.8,403.1L461.2,402.7L462.7,402.4L464.2,402.1L465.6,401.7L467.1,401.4L468.6,401.1L470.0,400.8L471.5,400.5L473.0,400.2L474.5,399.9L475.9,399.7L477.4,399.4L478.9,399.2L480.4,399.0L481.9,398.8L483.4,398.7L484.9,398.6L486.4,398.5L487.9,398.5L489.4,398.5L490.9,398.6L492.4,398.7L493.8,398.9L495.3,399.2L496.8,399.5L498.2,399.9L499.6,400.4L501.0,400.9L502.4,401.5L503.7,402.2L505.1,402.9L506.4,403.7L507.6,404.4L508.9,405.2L510.2,406.0L511.5,406.8L512.8,407.5L514.1,408.3L515.4,409.1L516.6,409.9L517.9,410.7L519.1,411.5L520.4,412.3L521.7,413.2L522.9,414.0L524.1,414.8L525.4,415.7L526.6,416.6L527.8,417.5L528.9,418.5L530.1,419.4L531.2,420.4L532.3,421.5L533.3,422.5L534.4,423.6L535.4,424.7L536.5,425.8L537.5,426.9L538.5,427.9L539.6,429.0L540.6,430.1L541.7,431.2L542.7,432.2L543.8,433.3L544.8,434.4L545.9,435.5L546.9,436.5L548.0,437.6L549.1,438.6L550.2,439.7L551.3,440.7L552.4,441.6L553.6,442.6L554.8,443.5L556.0,444.4L557.2,445.3L558.4,446.1L559.7,446.9L561.0,447.7L562.3,448.5L563.5,449.3L564.9,450.0L566.2,450.7L567.5,451.4L568.9,452.0L570.2,452.7L571.6,453.3L573.0,453.9L574.4,454.4L575.8,455.0L577.2,455.4L578.6,455.9L580.1,456.3L581.5,456.7L583.0,457.1L584.4,457.5L585.9,457.9L587.3,458.3L588.8,458.6L590.2,459.0L591.7,459.3L593.2,459.6L594.6,459.9L596.1,460.1L597.6,460.4L599.1,460.6L600.6,460.8L602.1,461.0L603.5,461.1L605.0,461.3L606.5,461.5L608.0,461.7L609.5,461.9L611.0,462.0L612.5,462.2L614.0,462.4L615.5,462.5L617.0,462.7L618.5,462.9L620.0,463.0L621.4,463.1L622.9,463.3L624.4,463.4L625.9,463.5L627.4,463.7L628.9,463.8L630.4,463.9L631.9,464.0L633.4,464.1L634.9,464.2L636.4,464.2L637.9,464.3L639.4,464.4L640.9,464.4L642.4,464.5L643.9,464.5L645.4,464.6L646.9,464.6L648.4,464.6L649.9,464.7L651.4,464.7L652.9,464.7L654.4,464.7L655.9,464.7L657.4,464.8L658.9,464.8L660.4,464.8L661.9,464.8L663.4,464.8L664.9,464.8L666.4,464.8L667.9,464.8L669.4,464.8L670.9,464.8L672.4,464.8L673.9,464.8L675.4,464.8L676.9,464.8L678.4,464.8L679.9,464.8L681.4,464.8L682.9,464.8L684.4,464.8L685.9,464.8L687.4,464.8L688.9,464.8L690.5,464.8L692.0,464.8L693.5,464.8L695.0,464.8L696.5,464.8L698.0,464.8L699.5,464.8L701.0,464.8L702.5,464.8L704.0,464.8L705.5,464.8L707.0,464.8L708.5,464.8L710.0,464.8L711.5,464.8L713.0,464.8L714.5,464.8L716.0,464.8L717.5,464.8L719.0,464.8L720.5,464.8L722.0,464.8L723.5,464.8L725.0,464.8L726.5,464.8L728.0,464.8L729.5,464.8L731.0,464.8L732.5,464.8L734.0,464.8L735.5,464.8L737.0,464.8L738.5,464.8L740.0,464.8L741.5,464.8L743.0,464.8L744.5,464.8L746.0,464.8L747.5,464.8L749.0,464.8L750.5,464.8L752.0,464.8L753.4,464.8L754.5,464.8L756.0,464.8" stroke="#ff25ff"/>
<path d="M122.0,455.4L123.8,455.6L125.1,455.7L126.5,455.8L128.0,456.0L129.5,456.1L131.0,456.3L132.5,456.4L134.0,456.5L135.4,456.6L136.9,456.7L138.4,456.8L139.9,456.8L141.4,456.9L142.9,456.9L144.4,456.8L145.9,456.8L147.4,456.7L148.9,456.6L150.4,456.5L151.9,456.3L153.4,456.2L154.9,456.1L156.4,456.0L157.9,455.8L159.4,455.7L160.9,455.6L162.4,455.5L163.9,455.4L165.4,455.4L166.9,455.3L168.4,455.3L169.9,455.2L171.4,455.2L172.9,455.2L174.4,455.2L175.9,455.2L177.4,455.2L178.9,455.1L180.4,455.1L181.9,455.1L183.4,455.1L184.9,455.0L186.4,455.0L187.9,454.9L189.4,454.9L190.9,454.8L192.4,454.7L193.9,454.6L195.4,454.5L196.9,454.5L198.4,454.4L199.9,454.3L201.4,454.2L202.9,454.1L204.4,454.1L205.9,454.0L207.4,453.9L208.9,453.9L210.4,453.9L211.9,453.8L213.4,453.8L214.9,453.9L216.4,453.9L217.9,453.9L219.4,453.9L220.9,453.8L222.4,453.8L223.9,453.7L225.4,453.7L226.9,453.6L228.4,453.4L229.9,453.3L231.3,453.2L232.8,453.0L234.3,452.8L235.8,452.7L237.3,452.5L238.8,452.4L240.3,452.2L241.8,452.0L243.3,451.9L244.8,451.7L246.3,451.6L247.8,451.4L249.3,451.3L250.7,451.2L252.2,451.0L253.7,450.9L255.2,450.8L256.7,450.7L258.2,450.5L259.7,450.4L261.2,450.3L262.7,450.2L264.2,450.1L265.7,450.0L267.2,449.8L268.7,449.7L270.2,449.6L271.7,449.5L273.2,449.4L274.7,449.3L276.2,449.2L277.7,449.1L279.2,449.0L280.7,448.9L282.2,448.8L283.7,448.7L285.2,448.6L286.7,448.5L288.2,448.4L289.7,448.3L291.1,448.2L292.6,448.1L294.1,448.0L295.6,447.9L297.1,447.8L298.6,447.7L300.1,447.6L301.6,447.5L303.1,447.4L304.6,447.3L306.1,447.2L307.6,447.1L309.1,447.0L310.6,446.9L312.1,446.8L313.6,446.7L315.1,446.5L316.6,446.4L318.1,446.3L319.6,446.2L321.1,446.1L322.6,446.0L324.1,445.9L325.6,445.8L327.1,445.6L328.6,445.5L330.1,445.4L331.6,445.3L333.0,445.2L334.5,445.0L336.0,444.9L337.5,444.8L339.0,444.7L340.5,444.5L342.0,444.4L343.5,444.3L345.0,444.2L346.5,444.0L348.0,443.9L349.5,443.8L351.0,443.7L352.5,443.6L354.0,443.4L355.5,443.3L357.0,443.2L358.5,443.1L360.0,442.9L361.5,442.8L363.0,442.7L364.4,442.5L365.9,442.4L367.4,442.3L368.9,442.2L370.4,442.1L371.9,442.0L373.4,441.9L374.9,441.8L376.4,441.8L377.9,441.7L379.4,441.7L380.9,441.7L382.4,441.7L383.9,441.7L385.4,441.8L386.9,441.8L388.4,441.9L389.9,442.0L391.4,442.1L392.9,442.2L394.4,442.4L395.9,442.5L397.4,442.7L398.9,442.9L400.4,443.1L401.8,443.3L403.3,443.5L404.8,443.8L406.3,444.0L407.8,444.3L409.3,444.5L410.7,444.7L412.2,444.9L413.7,445.1L415.2,445.3L416.7,445.5L418.2,445.6L419.7,445.8L421.2,445.9L422.7,446.1L424.2,446.1L425.6,446.1L427.1,446.0L428.6,445.9L430.1,445.6L431.6,445.4L433.0,445.0L434.5,444.7L436.0,444.4L437.5,444.1L438.9,443.8L440.4,443.5L441.8,443.1L443.3,442.8L444.7,442.4L446.2,442.0L447.6,441.6L449.1,441.1L450.5,440.7L451.9,440.3L453.4,439.8L454.8,439.4L456.2,438.9L457.7,438.5L459.1,438.0L460.5,437.5L461.9,437.0L463.3,436.5L464.7,436.0L466.1,435.4L467.6,434.9L469.0,434.4L470.4,433.9L471.8,433.4L473.2,432.9L474.6,432.4L476.0,431.9L477.4,431.4L478.9,430.9L480.3,430.4L481.7,430.0L483.1,429.5L484.6,429.1L486.0,428.7L487.5,428.3L488.9,427.9L490.4,427.6L491.8,427.2L493.3,426.9L494.8,426.6L496.2,426.3L497.7,426.0L499.2,425.7L500.7,425.4L502.1,425.2L503.6,424.9L505.1,424.7L506.6,424.5L508.1,424.4L509.6,424.3L511.1,424.2L512.6,424.1L514.1,424.0L515.6,424.0L517.1,424.1L518.6,424.2L520.0,424.4L521.5,424.7L522.9,425.1L524.3,425.6L525.7,426.2L527.1,426.8L528.4,427.5L529.7,428.2L531.0,429.0L532.3,429.7L533.6,430.5L534.9,431.3L536.2,432.0L537.5,432.8L538.7,433.6L540.0,434.5L541.2,435.3L542.5,436.1L543.7,437.0L544.9,437.9L546.1,438.8L547.3,439.7L548.5,440.6L549.6,441.6L550.8,442.6L551.9,443.6L553.0,444.6L554.1,445.6L555.2,446.6L556.3,447.6L557.5,448.5L558.6,449.5L559.8,450.5L560.9,451.4L562.1,452.4L563.3,453.3L564.5,454.2L565.7,455.1L566.9,456.0L568.1,456.9L569.3,457.7L570.6,458.5L571.9,459.3L573.2,460.1L574.5,460.8L575.8,461.5L577.1,462.2L578.5,462.8L579.9,463.4L581.3,463.9L582.7,464.4L584.1,464.9L585.6,465.3L587.0,465.7L588.5,466.1L589.9,466.5L591.4,466.8L592.8,467.2L594.3,467.5L595.8,467.8L597.2,468.1L598.7,468.4L600.2,468.7L601.6,469.0L603.1,469.3L604.6,469.6L606.1,469.9L607.5,470.1L609.0,470.3L610.5,470.5L612.0,470.7L613.5,470.9L615.0,471.0L616.5,471.1L618.0,471.2L619.5,471.3L621.0,471.4L622.5,471.5L624.0,471.5L625.5,471.6L627.0,471.6L628.5,471.6L630.0,471.7L631.5,471.7L633.0,471.7L634.5,471.7L636.0,471.8L637.5,471.8L639.0,471.8L640.5,471.9L642.0,471.9L643.5,471.9L645.0,471.9L646.5,472.0L648.0,472.0L649.5,472.0L651.0,472.0L652.5,472.0L654.0,472.1L655.5,472.1L657.0,472.1L658.5,472.1L660.0,472.1L661.5,472.2L663.0,472.2L664.5,472.2L666.0,472.2L667.5,472.2L669.0,472.2L670.5,472.2L672.0,472.2L673.5,472.3L675.0,472.3L676.5,472.3L678.0,472.3L679.5,472.3L681.0,472.3L682.5,472.3L684.0,472.3L685.5,472.3L687.0,472.3L688.5,472.3L690.0,472.3L691.5,472.3L693.0,472.3L694.5,472.3L696.0,472.3L697.5,472.3L699.0,472.3L700.5,472.3L702.0,472.2L703.5,472.2L705.0,472.2L706.5,472.2L708.0,472.2L709.5,472.2L711.0,472.2L712.5,472.2L714.0,472.2L715.5,472.2L717.0,472.1L718.5,472.1L720.0,472.1L721.5,472.1L723.0,472.1L724.5,472.1L726.0,472.1L727.5,472.1L729.0,472.0L730.5,472.0L732.0,472.0L733.5,472.0L735.0,472.0L736.5,472.0L738.0,472.0L739.5,471.9L741.0,471.9L742.5,471.9L744.0,471.9L745.5,471.9L747.0,471.9L748.5,471.9L750.0,471.9L751.5,471.8L752.9,471.8L754.2,471.8L756.0,471.8" stroke="#828008"/>
<path d="M122.0,474.9L123.8,475.0L125.1,475.0L126.5,475.0L128.0,475.1L129.5,475.1L131.0,475.2L132.5,475.2L134.0,475.3L135.5,475.3L137.0,475.4L138.5,475.4L140.0,475.4L141.5,475.5L143.0,475.5L144.5,475.5L146.0,475.6L147.5,475.6L149.0,475.6L150.5,475.6L152.0,475.6L153.5,475.6L155.0,475.6L156.5,475.5L158.0,475.5L159.5,475.5L161.0,475.4L162.5,475.4L164.0,475.3L165.5,475.2L167.0,475.2L168.5,475.1L170.0,475.0L171.5,474.9L173.0,474.8L174.5,474.7L176.0,474.5L177.5,474.4L179.0,474.2L180.5,474.1L182.0,473.9L183.5,473.8L185.0,473.6L186.4,473.4L187.9,473.3L189.4,473.1L190.9,473.0L192.4,472.8L193.9,472.7L195.4,472.5L196.9,472.4L198.4,472.2L199.9,472.1L201.4,471.9L202.9,471.8L204.4,471.6L205.9,471.5L207.4,471.3L208.8,471.2L210.3,471.0L211.8,470.9L213.3,470.7L214.8,470.6L216.3,470.4L217.8,470.2L219.3,470.0L220.8,469.8L222.3,469.6L223.7,469.4L225.2,469.2L226.7,469.0L228.2,468.8L229.7,468.6L231.2,468.5L232.7,468.4L234.2,468.2L235.7,468.1L237.2,468.0L238.7,467.9L240.2,467.8L241.7,467.7L243.2,467.6L244.7,467.5L246.2,467.4L247.7,467.2L249.2,467.1L250.6,467.0L252.1,466.8L253.6,466.7L255.1,466.5L256.6,466.4L258.1,466.2L259.6,466.1L261.1,465.9L262.6,465.8L264.1,465.6L265.6,465.5L267.1,465.3L268.6,465.1L270.1,465.0L271.5,464.8L273.0,464.6L274.5,464.4L276.0,464.3L277.5,464.1L279.0,463.9L280.5,463.7L282.0,463.5L283.5,463.3L285.0,463.1L286.4,462.9L287.9,462.7L289.4,462.6L290.9,462.4L292.4,462.2L293.9,462.1L295.4,461.9L296.9,461.7L298.4,461.6L299.9,461.4L301.4,461.2L302.8,461.1L304.3,460.9L305.8,460.8L307.3,460.6L308.8,460.4L310.3,460.3L311.8,460.1L313.3,460.0L314.8,459.8L316.3,459.7L317.8,459.5L319.3,459.4L320.8,459.2L322.3,459.1L323.7,458.9L325.2,458.8L326.7,458.6L328.2,458.5L329.7,458.3L331.2,458.2L332.7,458.0L334.2,457.8L335.7,457.6L337.2,457.5L338.7,457.3L340.2,457.1L341.7,457.0L343.2,456.9L344.7,456.8L346.2,456.7L347.7,456.7L349.2,456.6L350.6,456.5L352.1,456.5L353.6,456.4L355.1,456.3L356.6,456.3L358.1,456.2L359.7,456.2L361.2,456.2L362.7,456.1L364.2,456.1L365.7,456.1L367.2,456.1L368.7,456.1L370.2,456.1L371.7,456.1L373.2,456.2L374.7,456.3L376.2,456.4L377.6,456.5L379.1,456.6L380.6,456.7L382.1,456.9L383.6,457.0L385.1,457.2L386.6,457.3L388.1,457.4L389.6,457.6L391.1,457.7L392.6,457.8L394.1,457.9L395.6,458.0L397.1,458.1L398.6,458.2L400.1,458.4L401.6,458.5L403.1,458.6L404.6,458.7L406.1,458.8L407.6,459.0L409.1,459.1L410.6,459.3L412.0,459.4L413.5,459.5L415.0,459.5L416.5,459.6L418.0,459.5L419.5,459.4L421.0,459.3L422.5,459.1L424.0,458.9L425.5,458.6L426.9,458.2L428.4,457.9L429.8,457.5L431.3,457.1L432.7,456.7L434.1,456.2L435.6,455.7L437.0,455.2L438.4,454.7L439.8,454.2L441.2,453.7L442.6,453.1L444.0,452.6L445.4,452.1L446.8,451.6L448.3,451.1L449.7,450.6L451.1,450.0L452.5,449.5L453.9,449.0L455.3,448.5L456.7,448.0L458.1,447.5L459.5,447.0L460.9,446.5L462.4,446.0L463.8,445.5L465.2,445.0L466.6,444.5L468.0,444.0L469.5,443.6L470.9,443.1L472.3,442.7L473.8,442.3L475.2,441.9L476.7,441.5L478.1,441.1L479.6,440.7L481.0,440.4L482.5,440.0L483.9,439.6L485.4,439.2L486.8,438.8L488.3,438.4L489.7,438.1L491.2,437.8L492.7,437.6L494.2,437.5L495.7,437.5L497.2,437.5L498.7,437.6L500.2,437.7L501.7,437.8L503.2,438.0L504.7,438.2L506.1,438.4L507.6,438.7L509.1,439.0L510.5,439.3L512.0,439.6L513.5,439.9L514.9,440.3L516.4,440.7L517.8,441.2L519.2,441.7L520.5,442.4L521.8,443.1L523.1,443.9L524.4,444.7L525.6,445.6L526.8,446.4L528.1,447.3L529.3,448.1L530.5,449.0L531.7,449.9L532.9,450.8L534.1,451.7L535.3,452.6L536.5,453.5L537.7,454.4L538.9,455.3L540.1,456.2L541.3,457.1L542.5,458.0L543.7,458.9L544.9,459.8L546.1,460.7L547.3,461.6L548.6,462.5L549.8,463.4L550.9,464.3L552.1,465.2L553.3,466.2L554.4,467.1L555.6,468.1L556.7,469.1L557.8,470.1L558.9,471.1L560.1,472.1L561.2,473.1L562.4,474.0L563.6,474.9L564.8,475.8L566.0,476.7L567.2,477.6L568.4,478.5L569.6,479.3L570.9,480.2L572.2,481.0L573.4,481.7L574.7,482.5L576.1,483.2L577.5,483.8L578.8,484.3L580.3,484.8L581.7,485.2L583.2,485.5L584.6,485.8L586.1,486.0L587.6,486.3L589.1,486.5L590.6,486.8L592.1,487.0L593.5,487.1L595.0,487.3L596.5,487.5L598.0,487.6L599.5,487.8L601.0,487.9L602.5,488.1L604.0,488.3L605.5,488.5L607.0,488.7L608.5,488.8L610.0,489.0L611.4,489.1L612.9,489.2L614.4,489.3L615.9,489.3L617.4,489.4L618.9,489.5L620.4,489.5L621.9,489.6L623.4,489.6L624.9,489.7L626.4,489.7L627.9,489.8L629.4,489.8L630.9,489.9L632.4,489.9L633.9,489.9L635.4,490.0L636.9,490.0L638.4,490.1L639.9,490.1L641.4,490.1L642.9,490.2L644.4,490.2L645.9,490.2L647.5,490.3L649.0,490.3L650.5,490.3L652.0,490.3L653.5,490.4L655.0,490.4L656.5,490.4L658.0,490.5L659.5,490.5L661.0,490.5L662.5,490.6L664.0,490.6L665.5,490.6L667.0,490.7L668.5,490.7L670.0,490.7L671.5,490.7L673.0,490.8L674.5,490.8L676.0,490.8L677.5,490.9L679.0,490.9L680.5,490.9L682.0,490.9L683.5,490.9L685.0,490.9L686.5,491.0L688.0,491.0L689.5,491.0L691.0,491.0L692.5,491.0L694.0,491.0L695.5,491.0L697.0,491.0L698.5,491.0L700.0,491.0L701.5,491.0L703.0,491.0L704.5,491.0L706.0,490.9L707.5,490.9L709.0,490.9L710.5,490.9L712.0,490.9L713.5,490.8L715.0,490.8L716.5,490.8L718.0,490.7L719.5,490.7L721.0,490.7L722.5,490.6L724.0,490.6L725.5,490.6L727.0,490.5L728.5,490.5L730.0,490.5L731.5,490.4L733.0,490.4L734.5,490.4L736.0,490.3L737.5,490.3L739.0,490.2L740.5,490.2L742.0,490.2L743.5,490.1L745.0,490.1L746.5,490.0L748.0,490.0L749.5,490.0L751.0,489.9L752.4,489.9L753.8,489.9L754.9,489.8L756.0,489.8" stroke="#050585"/>
<path d="M122.0,467.5L123.8,467.6L125.1,467.6L126.5,467.7L128.0,467.8L129.5,467.8L131.0,467.8L132.5,467.9L134.0,467.9L135.5,467.9L137.0,467.8L138.5,467.8L140.0,467.8L141.5,467.7L143.0,467.6L144.5,467.6L146.0,467.5L147.5,467.4L149.0,467.3L150.5,467.2L152.0,467.2L153.5,467.1L155.0,467.0L156.5,466.9L158.0,466.8L159.5,466.7L161.0,466.6L162.5,466.5L164.0,466.4L165.5,466.3L167.0,466.2L168.5,466.2L170.0,466.1L171.5,466.0L173.0,465.9L174.5,465.9L176.0,465.8L177.5,465.8L179.0,465.7L180.5,465.7L182.0,465.6L183.5,465.6L185.0,465.5L186.5,465.5L188.0,465.5L189.5,465.4L191.0,465.4L192.5,465.3L194.0,465.3L195.5,465.2L197.0,465.2L198.5,465.1L200.0,465.1L201.5,465.1L203.0,465.0L204.5,465.0L206.0,464.9L207.5,464.9L209.0,464.8L210.5,464.8L212.0,464.7L213.5,464.7L215.0,464.6L216.5,464.5L218.0,464.5L219.5,464.4L221.0,464.3L222.5,464.2L224.0,464.1L225.5,464.0L227.0,464.0L228.5,463.9L230.0,463.8L231.5,463.7L233.0,463.7L234.5,463.6L236.0,463.6L237.5,463.5L239.0,463.5L240.5,463.4L242.0,463.4L243.5,463.3L245.0,463.2L246.5,463.2L248.0,463.1L249.5,463.0L251.0,462.9L252.5,462.8L254.0,462.8L255.5,462.7L256.9,462.6L258.4,462.5L259.9,462.4L261.4,462.3L262.9,462.1L264.4,462.0L265.9,461.9L267.4,461.8L268.9,461.7L270.4,461.6L271.9,461.5L273.4,461.4L274.9,461.3L276.4,461.2L277.9,461.1L279.4,461.0L280.9,461.0L282.4,460.9L283.9,460.8L285.4,460.7L286.9,460.7L288.4,460.6L289.9,460.6L291.4,460.5L292.9,460.5L294.4,460.4L295.9,460.4L297.4,460.3L298.9,460.3L300.4,460.2L301.9,460.2L303.4,460.1L304.9,460.1L306.4,460.0L307.9,460.0L309.4,460.0L310.9,459.9L312.4,459.9L313.9,459.8L315.4,459.8L316.9,459.7L318.4,459.7L319.9,459.6L321.4,459.6L322.9,459.5L324.4,459.4L325.9,459.4L327.4,459.3L328.9,459.2L330.4,459.2L331.9,459.1L333.4,459.0L334.9,459.0L336.4,459.0L337.9,459.0L339.4,458.9L340.9,458.9L342.4,458.9L343.9,458.9L345.4,458.9L346.9,458.9L348.4,459.0L349.9,459.0L351.4,459.0L352.9,459.0L354.4,459.1L355.9,459.1L357.4,459.1L358.9,459.2L360.4,459.2L361.9,459.3L363.4,459.3L364.9,459.3L366.4,459.4L367.9,459.5L369.4,459.5L370.9,459.6L372.4,459.6L373.9,459.7L375.4,459.8L376.9,459.9L378.4,460.0L379.9,460.1L381.4,460.2L382.9,460.3L384.4,460.4L385.9,460.5L387.4,460.6L388.9,460.7L390.4,460.7L391.9,460.8L393.4,460.8L394.9,460.7L396.4,460.7L397.9,460.6L399.4,460.5L400.9,460.3L402.4,460.2L403.9,460.0L405.4,459.9L406.9,459.7L408.3,459.6L409.8,459.4L411.3,459.2L412.8,459.0L414.3,458.9L415.8,458.7L417.3,458.5L418.8,458.3L420.3,458.1L421.7,457.9L423.2,457.7L424.7,457.5L426.2,457.3L427.7,457.1L429.2,456.9L430.7,456.6L432.1,456.4L433.6,456.1L435.1,455.8L436.6,455.5L438.0,455.2L439.5,454.9L441.0,454.6L442.4,454.3L443.9,454.0L445.4,453.7L446.9,453.4L448.3,453.1L449.8,452.9L451.3,452.6L452.8,452.4L454.2,452.1L455.7,451.9L457.2,451.7L458.7,451.5L460.2,451.3L461.7,451.2L463.2,451.0L464.7,450.9L466.2,450.7L467.7,450.6L469.2,450.5L470.7,450.5L472.2,450.5L473.7,450.5L475.2,450.6L476.7,450.7L478.1,450.9L479.6,451.0L481.1,451.2L482.6,451.3L484.1,451.4L485.6,451.5L487.1,451.6L488.6,451.7L490.1,451.8L491.6,452.0L493.1,452.3L494.5,452.6L495.9,453.1L497.4,453.5L498.8,454.0L500.2,454.5L501.6,455.0L503.1,455.4L504.5,455.8L506.0,456.2L507.4,456.6L508.8,457.0L510.2,457.6L511.5,458.3L512.9,459.0L514.1,459.8L515.4,460.5L516.7,461.3L518.0,462.1L519.3,462.8L520.6,463.5L522.0,464.2L523.3,464.9L524.7,465.5L526.1,466.1L527.4,466.7L528.8,467.2L530.2,467.7L531.6,468.3L533.1,468.8L534.5,469.2L535.9,469.7L537.3,470.1L538.8,470.6L540.2,471.0L541.7,471.4L543.1,471.7L544.6,472.1L546.0,472.5L547.5,472.8L548.9,473.2L550.4,473.6L551.8,474.0L553.3,474.4L554.7,474.8L556.2,475.2L557.6,475.5L559.1,475.9L560.6,476.2L562.0,476.6L563.5,476.8L565.0,477.1L566.5,477.3L568.0,477.5L569.4,477.7L570.9,477.9L572.4,478.0L573.9,478.1L575.4,478.2L576.9,478.3L578.4,478.3L579.9,478.4L581.4,478.4L582.9,478.3L584.4,478.3L585.9,478.3L587.4,478.3L588.9,478.4L590.4,478.5L591.9,478.6L593.4,478.7L594.9,478.8L596.4,478.9L597.9,478.9L599.4,479.0L600.9,479.0L602.4,479.0L603.9,479.1L605.4,479.1L606.9,479.1L608.4,479.1L609.9,479.1L611.4,479.1L612.9,479.1L614.4,479.2L615.9,479.2L617.4,479.2L618.9,479.2L620.4,479.2L621.9,479.2L623.4,479.2L624.9,479.2L626.4,479.2L627.9,479.2L629.4,479.2L630.9,479.2L632.4,479.3L633.9,479.3L635.4,479.3L636.9,479.3L638.4,479.3L639.9,479.3L641.4,479.3L642.9,479.3L644.4,479.3L645.9,479.3L647.4,479.3L648.9,479.3L650.4,479.3L651.9,479.3L653.4,479.3L654.9,479.3L656.4,479.3L657.9,479.3L659.4,479.3L660.9,479.3L662.4,479.3L663.9,479.3L665.4,479.3L666.9,479.3L668.4,479.3L669.9,479.3L671.4,479.3L672.9,479.3L674.4,479.3L676.0,479.3L677.5,479.3L679.0,479.3L680.5,479.3L682.0,479.3L683.5,479.3L685.0,479.3L686.5,479.3L688.0,479.3L689.5,479.3L691.0,479.3L692.5,479.3L694.0,479.3L695.5,479.3L697.0,479.3L698.5,479.3L700.0,479.3L701.5,479.3L703.0,479.3L704.5,479.3L706.0,479.3L707.5,479.3L709.0,479.3L710.5,479.3L712.0,479.3L713.5,479.3L715.0,479.3L716.5,479.3L718.0,479.3L719.5,479.3L721.0,479.3L722.5,479.3L724.0,479.3L725.5,479.3L727.0,479.3L728.5,479.3L730.0,479.3L731.5,479.3L733.0,479.3L734.5,479.3L736.0,479.3L737.5,479.3L739.0,479.3L740.5,479.3L742.0,479.3L743.5,479.3L745.0,479.3L746.5,479.3L748.0,479.3L749.5,479.3L751.0,479.3L752.4,479.3L753.8,479.3L754.9,479.3L756.0,479.3" stroke="#820006"/>
<path d="M122.0,456.9L123.8,457.3L125.0,457.5L126.4,457.8L127.9,458.1L129.4,458.4L130.8,458.7L132.3,459.0L133.8,459.3L135.2,459.6L136.7,459.9L138.2,460.2L139.7,460.5L141.1,460.7L142.6,461.0L144.1,461.2L145.6,461.5L147.1,461.7L148.6,461.9L150.0,462.1L151.5,462.2L153.0,462.4L154.5,462.5L156.0,462.7L157.5,462.8L159.0,462.9L160.5,463.0L162.0,463.0L163.5,463.1L165.0,463.1L166.5,463.1L168.0,463.1L169.5,463.2L171.0,463.2L172.5,463.2L174.0,463.2L175.5,463.2L177.0,463.2L178.5,463.2L180.0,463.2L181.5,463.1L183.0,463.1L184.5,463.1L186.0,463.1L187.5,463.1L189.0,463.1L190.5,463.0L192.0,463.0L193.5,463.0L195.0,462.9L196.5,462.9L198.0,462.9L199.5,462.8L201.0,462.8L202.5,462.7L204.0,462.7L205.5,462.7L207.0,462.6L208.5,462.6L210.0,462.6L211.5,462.5L213.0,462.5L214.5,462.5L216.0,462.4L217.5,462.4L219.0,462.4L220.5,462.3L222.0,462.3L223.5,462.2L225.0,462.2L226.5,462.2L228.0,462.1L229.5,462.1L231.0,462.0L232.5,462.0L234.0,461.9L235.5,461.9L237.0,461.8L238.5,461.8L240.0,461.7L241.5,461.6L243.0,461.6L244.5,461.5L246.0,461.4L247.5,461.4L249.0,461.3L250.5,461.2L252.0,461.1L253.5,460.9L255.0,460.8L256.5,460.7L258.0,460.6L259.5,460.5L261.0,460.4L262.5,460.2L264.0,460.2L265.5,460.1L267.0,460.1L268.5,460.2L269.9,460.4L271.4,460.8L272.8,461.3L274.2,461.7L275.6,462.1L277.1,462.3L278.6,462.5L280.1,462.5L281.6,462.6L283.1,462.6L284.6,462.5L286.1,462.5L287.6,462.5L289.1,462.5L290.6,462.5L292.1,462.5L293.6,462.5L295.1,462.5L296.6,462.5L298.1,462.5L299.6,462.5L301.1,462.5L302.6,462.5L304.1,462.5L305.6,462.5L307.1,462.5L308.6,462.5L310.1,462.5L311.6,462.5L313.1,462.5L314.6,462.5L316.1,462.5L317.6,462.6L319.1,462.6L320.6,462.6L322.1,462.6L323.6,462.7L325.1,462.7L326.6,462.7L328.1,462.7L329.6,462.7L331.1,462.7L332.6,462.6L334.1,462.6L335.6,462.6L337.1,462.5L338.6,462.5L340.1,462.4L341.6,462.4L343.1,462.3L344.6,462.3L346.1,462.3L347.6,462.3L349.1,462.3L350.6,462.3L352.1,462.3L353.6,462.4L355.1,462.5L356.6,462.5L358.1,462.7L359.6,462.8L361.1,462.9L362.6,463.0L364.1,463.2L365.6,463.3L367.1,463.5L368.6,463.6L370.1,463.7L371.6,463.9L373.1,464.0L374.6,464.1L376.1,464.3L377.6,464.4L379.0,464.5L380.5,464.7L382.0,464.8L383.5,464.9L385.0,465.1L386.5,465.2L388.0,465.3L389.5,465.4L391.0,465.5L392.5,465.6L394.0,465.7L395.5,465.8L397.0,465.9L398.5,465.9L400.0,466.0L401.5,466.0L403.0,466.0L404.5,466.0L406.0,466.0L407.5,466.0L409.0,465.9L410.5,465.8L412.0,465.7L413.5,465.6L415.0,465.5L416.5,465.3L418.0,465.2L419.5,465.1L421.0,464.9L422.5,464.8L424.0,464.6L425.5,464.5L427.0,464.3L428.4,464.1L429.9,463.9L431.4,463.6L432.9,463.3L434.4,463.1L435.8,462.8L437.3,462.5L438.8,462.2L440.2,461.9L441.7,461.6L443.2,461.3L444.6,460.9L446.1,460.6L447.6,460.2L449.0,459.8L450.5,459.5L451.9,459.1L453.4,458.7L454.8,458.4L456.3,458.0L457.8,457.7L459.2,457.4L460.7,457.0L462.1,456.7L463.6,456.4L465.1,456.1L466.6,455.9L468.1,455.6L469.5,455.4L471.0,455.3L472.5,455.2L474.0,455.1L475.5,455.0L477.0,455.0L478.5,454.9L480.0,455.0L481.5,455.0L483.0,455.0L484.5,455.2L486.0,455.3L487.5,455.5L489.0,455.7L490.5,456.0L491.9,456.3L493.4,456.6L494.9,457.0L496.3,457.3L497.7,457.8L499.2,458.2L500.6,458.6L502.0,459.1L503.5,459.6L504.9,460.1L506.3,460.6L507.7,461.1L509.1,461.6L510.5,462.2L511.9,462.8L513.3,463.4L514.6,464.0L516.0,464.5L517.4,465.2L518.8,465.8L520.1,466.4L521.5,467.1L522.8,467.7L524.1,468.4L525.5,469.2L526.8,469.9L528.1,470.6L529.4,471.4L530.7,472.1L532.0,472.8L533.3,473.6L534.6,474.3L536.0,475.0L537.3,475.7L538.6,476.4L540.0,477.0L541.3,477.7L542.7,478.4L544.0,479.0L545.4,479.7L546.7,480.3L548.1,481.0L549.4,481.6L550.8,482.3L552.1,482.9L553.5,483.5L554.9,484.2L556.2,484.8L557.6,485.4L559.0,486.0L560.4,486.5L561.8,487.1L563.2,487.6L564.6,488.2L566.0,488.7L567.4,489.2L568.8,489.7L570.2,490.2L571.6,490.7L573.1,491.1L574.5,491.6L575.9,492.0L577.4,492.5L578.8,492.9L580.3,493.3L581.7,493.6L583.2,494.0L584.6,494.4L586.1,494.7L587.6,495.1L589.0,495.4L590.5,495.8L591.9,496.2L593.4,496.5L594.8,496.9L596.3,497.3L597.8,497.6L599.2,497.9L600.7,498.2L602.2,498.6L603.6,498.9L605.1,499.2L606.6,499.5L608.0,499.7L609.5,500.0L611.0,500.2L612.5,500.5L614.0,500.7L615.5,500.8L617.0,501.0L618.4,501.2L619.9,501.3L621.4,501.5L622.9,501.6L624.4,501.7L625.9,501.8L627.4,501.9L628.9,502.0L630.4,502.0L631.9,502.1L633.4,502.2L634.9,502.2L636.4,502.3L637.9,502.3L639.4,502.4L640.9,502.4L642.4,502.4L643.9,502.5L645.4,502.5L646.9,502.5L648.4,502.5L649.9,502.6L651.4,502.6L652.9,502.6L654.4,502.6L655.9,502.7L657.4,502.7L658.9,502.7L660.4,502.7L661.9,502.7L663.4,502.7L664.9,502.8L666.4,502.8L667.9,502.8L669.4,502.8L670.9,502.8L672.4,502.8L673.9,502.8L675.4,502.8L676.9,502.8L678.4,502.8L679.9,502.8L681.4,502.8L683.0,502.8L684.5,502.8L686.0,502.8L687.5,502.8L689.0,502.8L690.5,502.8L692.0,502.8L693.5,502.8L695.0,502.7L696.5,502.7L698.0,502.7L699.5,502.7L701.0,502.7L702.5,502.7L704.0,502.6L705.5,502.6L707.0,502.6L708.5,502.6L710.0,502.6L711.5,502.5L713.0,502.5L714.5,502.5L716.0,502.5L717.5,502.4L719.0,502.4L720.5,502.4L722.0,502.4L723.5,502.4L725.0,502.3L726.5,502.3L728.0,502.3L729.5,502.3L731.0,502.2L732.5,502.2L734.0,502.2L735.5,502.2L737.0,502.1L738.5,502.1L740.0,502.1L741.5,502.0L743.0,502.0L744.5,502.0L746.0,502.0L747.5,501.9L749.0,501.9L750.5,501.9L752.0,501.9L753.4,501.8L754.5,501.8L756.0,501.8" stroke="#ff1c7c"/>
</g>
<g stroke="#000" stroke-width="2.6" fill="none" stroke-linecap="square">
<path d="M121.8,16.0 H756.6 V546.2 H121.8 Z"/>
</g>
<g stroke="#000" stroke-width="2.6">
<line x1="115.8" y1="546.2" x2="121.8" y2="546.2"/>
<line x1="110.8" y1="515.0" x2="121.8" y2="515.0"/>
<line x1="115.8" y1="483.8" x2="121.8" y2="483.8"/>
<line x1="110.8" y1="452.6" x2="121.8" y2="452.6"/>
<line x1="115.8" y1="421.4" x2="121.8" y2="421.4"/>
<line x1="110.8" y1="390.2" x2="121.8" y2="390.2"/>
<line x1="115.8" y1="359.0" x2="121.8" y2="359.0"/>
<line x1="110.8" y1="327.8" x2="121.8" y2="327.8"/>
<line x1="115.8" y1="296.6" x2="121.8" y2="296.6"/>
<line x1="110.8" y1="265.4" x2="121.8" y2="265.4"/>
<line x1="115.8" y1="234.2" x2="121.8" y2="234.2"/>
<line x1="110.8" y1="203.0" x2="121.8" y2="203.0"/>
<line x1="115.8" y1="171.8" x2="121.8" y2="171.8"/>
<line x1="110.8" y1="140.6" x2="121.8" y2="140.6"/>
<line x1="115.8" y1="109.4" x2="121.8" y2="109.4"/>
<line x1="110.8" y1="78.2" x2="121.8" y2="78.2"/>
<line x1="115.8" y1="47.0" x2="121.8" y2="47.0"/>
<line x1="110.8" y1="15.8" x2="121.8" y2="15.8"/>
<line x1="122.0" y1="546.2" x2="122.0" y2="557.2"/>
<line x1="249.1" y1="546.2" x2="249.1" y2="552.2"/>
<line x1="376.1" y1="546.2" x2="376.1" y2="557.2"/>
<line x1="503.2" y1="546.2" x2="503.2" y2="552.2"/>
<line x1="630.3" y1="546.2" x2="630.3" y2="557.2"/>
<line x1="757.4" y1="546.2" x2="757.4" y2="552.2"/>
</g>
<g class="san" font-weight="bold" font-size="27" text-anchor="end" fill="#000">
<text x="103.5" y="24.4">1.4</text>
<text x="103.5" y="86.8">1.2</text>
<text x="103.5" y="149.2">1.0</text>
<text x="103.5" y="211.6">0.8</text>
<text x="103.5" y="274.0">0.6</text>
<text x="103.5" y="336.4">0.4</text>
<text x="103.5" y="398.8">0.2</text>
<text x="103.5" y="461.2">0.0</text>
<text x="103.5" y="523.6">-0.2</text>
</g>
<g class="ser" font-size="27.5" text-anchor="middle" fill="#000">
<text x="122.0" y="586.5">500</text>
<text x="376.1" y="586.5">600</text>
<text x="630.3" y="586.5">700</text>
</g>
<text class="ser" font-size="28" x="440" y="634" text-anchor="middle">Wavelength (nm)</text>
<text class="ser" font-size="28.8" transform="translate(27.3,269.5) rotate(-90)" text-anchor="middle">Absorbance (a.u.)</text>
<text class="san" font-size="30" x="454" y="676.5" text-anchor="middle">a</text>
<rect x="619.4" y="29.6" width="109.4" height="254.4" fill="#fff" stroke="#333" stroke-width="1.1"/>
<line x1="621" y1="45.2" x2="661.5" y2="45.2" stroke="#000000" stroke-width="3.7" stroke-linecap="round"/>
<text class="ser" font-size="22" transform="translate(666.8,52.4) scale(1,1.07)">DA<tspan x="37.2">8</tspan></text>
<line x1="621" y1="73.7" x2="661.5" y2="73.7" stroke="#f81a00" stroke-width="3.7" stroke-linecap="round"/>
<text class="ser" font-size="22" transform="translate(666.8,80.9) scale(1,1.07)">DA<tspan x="37.2">7</tspan></text>
<line x1="621" y1="102.2" x2="661.5" y2="102.2" stroke="#1020ff" stroke-width="3.7" stroke-linecap="round"/>
<text class="ser" font-size="22" transform="translate(666.8,109.4) scale(1,1.07)">DA<tspan x="37.2">6</tspan></text>
<line x1="621" y1="130.7" x2="661.5" y2="130.7" stroke="#088080" stroke-width="3.7" stroke-linecap="round"/>
<text class="ser" font-size="22" transform="translate(666.8,137.9) scale(1,1.07)">DA<tspan x="37.2">5</tspan></text>
<line x1="621" y1="159.2" x2="661.5" y2="159.2" stroke="#ff25ff" stroke-width="3.7" stroke-linecap="round"/>
<text class="ser" font-size="22" transform="translate(666.8,166.4) scale(1,1.07)">DA<tspan x="37.2">4</tspan></text>
<line x1="621" y1="187.7" x2="661.5" y2="187.7" stroke="#828008" stroke-width="3.7" stroke-linecap="round"/>
<text class="ser" font-size="22" transform="translate(666.8,194.9) scale(1,1.07)">DA<tspan x="37.2">3</tspan></text>
<line x1="621" y1="216.2" x2="661.5" y2="216.2" stroke="#050585" stroke-width="3.7" stroke-linecap="round"/>
<text class="ser" font-size="22" transform="translate(666.8,223.4) scale(1,1.07)">DA<tspan x="37.2">2</tspan></text>
<line x1="621" y1="244.7" x2="661.5" y2="244.7" stroke="#820006" stroke-width="3.7" stroke-linecap="round"/>
<text class="ser" font-size="22" transform="translate(666.8,251.9) scale(1,1.07)">DA<tspan x="37.2">1</tspan></text>
<line x1="621" y1="273.2" x2="661.5" y2="273.2" stroke="#ff1c7c" stroke-width="3.7" stroke-linecap="round"/>
<text class="ser" font-size="22" transform="translate(667,280.4) scale(1,1.07)" textLength="59.5" lengthAdjust="spacingAndGlyphs">PCDA</text>
<g clip-path="url(#clipB)" fill="none" stroke-width="3.7" stroke-linejoin="round" stroke-linecap="round">
<path d="M887.8,368.8L889.4,368.7L890.8,368.6L892.3,368.5L893.8,368.4L895.3,368.3L896.8,368.3L898.3,368.2L899.8,368.1L901.3,367.9L902.8,367.8L904.3,367.7L905.8,367.5L907.3,367.4L908.7,367.2L910.2,367.0L911.7,366.8L913.2,366.5L914.7,366.3L916.1,366.0L917.6,365.7L919.1,365.4L920.6,365.1L922.0,364.8L923.5,364.4L924.9,364.1L926.4,363.7L927.9,363.4L929.3,363.0L930.8,362.6L932.2,362.2L933.6,361.8L935.1,361.4L936.5,360.9L938.0,360.5L939.4,360.0L940.8,359.6L942.2,359.1L943.7,358.6L945.1,358.1L946.5,357.5L947.9,357.0L949.3,356.4L950.6,355.9L952.0,355.3L953.4,354.7L954.8,354.1L956.2,353.5L957.5,352.9L958.9,352.3L960.3,351.7L961.7,351.2L963.1,350.6L964.5,350.0L965.9,349.5L967.3,349.0L968.7,348.5L970.1,348.0L971.5,347.5L973.0,347.0L974.4,346.6L975.8,346.2L977.3,345.8L978.7,345.4L980.2,345.0L981.6,344.6L983.1,344.2L984.5,343.8L985.9,343.4L987.4,343.0L988.8,342.6L990.3,342.1L991.7,341.7L993.1,341.2L994.6,340.8L996.0,340.3L997.4,339.7L998.8,339.2L1000.2,338.6L1001.5,338.0L1002.9,337.4L1004.3,336.8L1005.6,336.1L1007.0,335.5L1008.3,334.8L1009.6,334.1L1011.0,333.4L1012.3,332.6L1013.6,331.9L1014.9,331.1L1016.1,330.3L1017.4,329.5L1018.6,328.6L1019.8,327.7L1021.0,326.8L1022.1,325.8L1023.3,324.9L1024.4,323.9L1025.5,322.9L1026.7,321.9L1027.8,320.9L1029.0,320.0L1030.2,319.1L1031.4,318.3L1032.7,317.5L1034.0,316.7L1035.3,315.9L1036.6,315.2L1037.9,314.4L1039.2,313.7L1040.5,312.9L1041.8,312.2L1043.1,311.4L1044.3,310.6L1045.6,309.8L1046.9,309.0L1048.1,308.2L1049.4,307.3L1050.6,306.5L1051.8,305.6L1053.1,304.8L1054.3,303.9L1055.5,303.1L1056.8,302.2L1058.0,301.4L1059.3,300.5L1060.5,299.7L1061.7,298.9L1063.0,298.0L1064.2,297.2L1065.5,296.3L1066.7,295.5L1067.9,294.6L1069.2,293.8L1070.4,292.9L1071.6,292.1L1072.9,291.2L1074.1,290.4L1075.4,289.6L1076.6,288.7L1077.9,287.9L1079.2,287.1L1080.4,286.3L1081.7,285.6L1083.0,284.8L1084.3,284.1L1085.7,283.4L1087.0,282.7L1088.4,282.1L1089.7,281.5L1091.1,280.9L1092.5,280.3L1093.9,279.7L1095.2,279.0L1096.6,278.4L1097.9,277.7L1099.3,277.0L1100.6,276.3L1101.9,275.6L1103.1,274.8L1104.4,273.9L1105.6,273.0L1106.8,272.1L1108.0,271.2L1109.1,270.3L1110.3,269.3L1111.4,268.3L1112.6,267.3L1113.7,266.3L1114.8,265.3L1115.9,264.3L1117.0,263.3L1118.2,262.4L1119.3,261.4L1120.4,260.4L1121.6,259.4L1122.7,258.5L1123.9,257.5L1125.1,256.6L1126.3,255.7L1127.5,254.8L1128.7,253.9L1129.9,253.0L1131.1,252.1L1132.3,251.2L1133.5,250.3L1134.7,249.5L1136.0,248.6L1137.3,247.8L1138.6,247.1L1139.9,246.4L1141.3,245.8L1142.7,245.3L1144.1,245.0L1145.6,244.8L1147.1,245.0L1148.5,245.4L1149.8,246.0L1151.1,246.9L1152.2,247.8L1153.4,248.8L1154.5,249.8L1155.5,250.9L1156.4,252.1L1157.4,253.2L1158.3,254.4L1159.2,255.6L1160.1,256.8L1161.0,258.0L1161.9,259.2L1162.8,260.4L1163.7,261.6L1164.6,262.8L1165.5,264.0L1166.4,265.2L1167.4,266.4L1168.3,267.5L1169.3,268.7L1170.2,269.8L1171.2,271.0L1172.1,272.2L1173.1,273.3L1174.0,274.5L1175.0,275.6L1176.0,276.8L1177.0,277.9L1178.0,279.0L1179.1,280.0L1180.2,281.0L1181.4,281.9L1182.7,282.6L1184.1,283.1L1185.5,283.3L1187.0,283.2L1188.5,283.0L1190.0,282.7L1191.4,282.3L1192.8,281.8L1194.2,281.3L1195.6,280.7L1196.9,280.0L1198.2,279.2L1199.5,278.4L1200.7,277.5L1201.8,276.6L1203.0,275.6L1204.1,274.5L1205.1,273.5L1206.1,272.3L1207.0,271.2L1207.9,270.0L1208.8,268.7L1209.6,267.5L1210.4,266.2L1211.2,264.9L1211.9,263.6L1212.6,262.3L1213.3,261.0L1214.0,259.6L1214.6,258.3L1215.2,256.9L1215.8,255.5L1216.4,254.1L1217.0,252.8L1217.6,251.4L1218.1,250.0L1218.7,248.6L1219.2,247.2L1219.8,245.8L1220.3,244.4L1220.9,243.0L1221.4,241.6L1221.9,240.2L1222.4,238.8L1223.0,237.4L1223.5,236.0L1224.0,234.5L1224.5,233.1L1225.0,231.7L1225.5,230.3L1226.0,228.9L1226.4,227.5L1226.9,226.0L1227.4,224.6L1227.8,223.2L1228.3,221.8L1228.8,220.3L1229.2,218.9L1229.6,217.5L1230.1,216.0L1230.5,214.6L1230.9,213.1L1231.4,211.7L1231.8,210.3L1232.2,208.8L1232.6,207.4L1233.0,205.9L1233.4,204.5L1233.9,203.1L1234.3,201.6L1234.7,200.2L1235.1,198.7L1235.5,197.3L1236.0,195.9L1236.4,194.4L1236.8,193.0L1237.2,191.5L1237.7,190.1L1238.1,188.7L1238.6,187.2L1239.0,185.8L1239.5,184.4L1239.9,182.9L1240.4,181.5L1240.9,180.1L1241.3,178.7L1241.8,177.2L1242.3,175.8L1242.7,174.4L1243.2,173.0L1243.6,171.5L1244.1,170.1L1244.5,168.7L1245.0,167.2L1245.4,165.8L1245.8,164.4L1246.3,162.9L1246.7,161.5L1247.1,160.0L1247.5,158.6L1247.9,157.1L1248.2,155.7L1248.6,154.2L1249.0,152.8L1249.4,151.3L1249.7,149.9L1250.1,148.4L1250.5,147.0L1250.8,145.5L1251.2,144.0L1251.6,142.6L1251.9,141.1L1252.3,139.7L1252.6,138.2L1253.0,136.7L1253.3,135.3L1253.7,133.8L1254.0,132.4L1254.4,130.9L1254.7,129.5L1255.1,128.0L1255.4,126.5L1255.8,125.1L1256.2,123.6L1256.5,122.2L1256.9,120.7L1257.3,119.3L1257.6,117.8L1258.0,116.3L1258.3,114.9L1258.7,113.4L1259.0,112.0L1259.4,110.5L1259.8,109.1L1260.1,107.6L1260.5,106.1L1260.8,104.7L1261.2,103.2L1261.6,101.8L1261.9,100.3L1262.3,98.9L1262.6,97.4L1263.0,96.0L1263.4,94.5L1263.8,93.0L1264.2,91.6L1264.5,90.1L1264.9,88.7L1265.3,87.2L1265.7,85.8L1266.1,84.3L1266.4,82.9L1266.8,81.4L1267.3,80.0L1267.7,78.6L1268.1,77.1L1268.6,75.7L1269.1,74.3L1269.7,72.9L1270.4,71.6L1271.2,70.4L1272.2,69.3L1273.3,68.2L1274.4,67.2L1275.5,66.3L1276.8,65.7L1278.1,65.9L1279.1,66.7L1279.9,68.0L1280.6,69.3L1281.3,70.6L1281.9,72.0L1282.4,73.4L1282.9,74.8L1283.3,76.3L1283.7,77.7L1284.1,79.2L1284.5,80.6L1284.8,82.1L1285.2,83.5L1285.5,85.0L1285.9,86.5L1286.2,87.9L1286.6,89.4L1286.9,90.8L1287.2,92.3L1287.5,93.8L1287.9,95.2L1288.2,96.7L1288.5,98.2L1288.8,99.6L1289.1,101.1L1289.4,102.6L1289.7,104.1L1290.0,105.5L1290.3,107.0L1290.6,108.5L1290.9,109.9L1291.2,111.4L1291.5,112.9L1291.7,114.4L1292.0,115.8L1292.3,117.3L1292.6,118.8L1292.8,120.3L1293.1,121.7L1293.4,123.2L1293.6,124.7L1293.9,126.2L1294.1,127.7L1294.4,129.1L1294.6,130.6L1294.9,132.1L1295.1,133.6L1295.4,135.1L1295.6,136.5L1295.9,138.0L1296.1,139.5L1296.3,141.0L1296.5,142.5L1296.8,143.9L1297.0,145.4L1297.2,146.9L1297.4,148.4L1297.7,149.9L1297.9,151.4L1298.1,152.9L1298.3,154.3L1298.5,155.8L1298.8,157.3L1299.0,158.8L1299.2,160.3L1299.4,161.8L1299.6,163.2L1299.9,164.7L1300.1,166.2L1300.3,167.7L1300.5,169.2L1300.8,170.7L1301.0,172.1L1301.2,173.6L1301.4,175.1L1301.7,176.6L1301.9,178.1L1302.1,179.6L1302.3,181.0L1302.5,182.5L1302.8,184.0L1303.0,185.5L1303.2,187.0L1303.4,188.5L1303.6,190.0L1303.9,191.4L1304.1,192.9L1304.3,194.4L1304.5,195.9L1304.8,197.4L1305.0,198.9L1305.2,200.3L1305.4,201.8L1305.6,203.3L1305.9,204.8L1306.1,206.3L1306.3,207.8L1306.5,209.2L1306.7,210.7L1307.0,212.2L1307.2,213.7L1307.4,215.2L1307.6,216.7L1307.9,218.2L1308.1,219.6L1308.3,221.1L1308.5,222.6L1308.8,224.1L1309.0,225.6L1309.2,227.1L1309.4,228.5L1309.6,230.0L1309.9,231.5L1310.1,233.0L1310.3,234.5L1310.5,236.0L1310.8,237.4L1311.0,238.9L1311.2,240.4L1311.4,241.9L1311.6,243.4L1311.9,244.9L1312.1,246.3L1312.3,247.8L1312.6,249.3L1312.8,250.8L1313.0,252.3L1313.2,253.8L1313.5,255.2L1313.7,256.7L1313.9,258.2L1314.2,259.7L1314.4,261.2L1314.6,262.7L1314.8,264.1L1315.0,265.6L1315.3,267.1L1315.5,268.6L1315.7,270.1L1315.9,271.6L1316.1,273.1L1316.3,274.5L1316.5,276.0L1316.7,277.5L1316.9,279.0L1317.1,280.5L1317.3,282.0L1317.5,283.5L1317.7,285.0L1317.9,286.4L1318.1,287.9L1318.3,289.4L1318.4,290.9L1318.6,292.4L1318.8,293.9L1319.0,295.4L1319.2,296.9L1319.3,298.4L1319.5,299.8L1319.7,301.3L1319.9,302.8L1320.0,304.3L1320.2,305.8L1320.4,307.3L1320.6,308.8L1320.8,310.3L1321.0,311.8L1321.1,313.3L1321.3,314.7L1321.5,316.2L1321.7,317.7L1321.9,319.2L1322.1,320.7L1322.3,322.2L1322.5,323.7L1322.8,325.2L1323.0,326.6L1323.2,328.1L1323.5,329.6L1323.7,331.1L1324.0,332.6L1324.2,334.0L1324.5,335.5L1324.8,337.0L1325.1,338.4L1325.4,339.9L1325.8,341.4L1326.1,342.8L1326.4,344.3L1326.8,345.8L1327.2,347.2L1327.5,348.7L1327.9,350.1L1328.3,351.6L1328.6,353.0L1329.0,354.5L1329.3,356.0L1329.7,357.4L1330.0,358.9L1330.3,360.3L1330.7,361.8L1331.0,363.3L1331.3,364.7L1331.6,366.2L1331.9,367.7L1332.2,369.2L1332.5,370.6L1332.8,372.1L1333.1,373.6L1333.4,375.0L1333.7,376.5L1333.9,378.0L1334.2,379.5L1334.5,380.9L1334.8,382.4L1335.1,383.9L1335.4,385.3L1335.7,386.8L1336.0,388.3L1336.3,389.7L1336.6,391.2L1336.9,392.7L1337.2,394.2L1337.6,395.6L1337.9,397.1L1338.2,398.6L1338.5,400.0L1338.9,401.5L1339.2,402.9L1339.5,404.4L1339.9,405.9L1340.3,407.3L1340.7,408.8L1341.1,410.2L1341.5,411.7L1341.9,413.1L1342.3,414.5L1342.8,416.0L1343.3,417.4L1343.7,418.8L1344.2,420.2L1344.8,421.6L1345.3,423.0L1345.9,424.4L1346.5,425.8L1347.1,427.1L1347.8,428.5L1348.5,429.8L1349.2,431.1L1350.0,432.4L1350.7,433.7L1351.5,435.0L1352.4,436.2L1353.2,437.5L1354.1,438.7L1355.0,439.9L1356.0,441.0L1357.0,442.1L1358.1,443.2L1359.1,444.2L1360.3,445.2L1361.4,446.1L1362.6,447.1L1363.8,447.9L1365.1,448.8L1366.3,449.6L1367.6,450.4L1368.9,451.1L1370.3,451.8L1371.6,452.4L1373.0,453.1L1374.4,453.7L1375.8,454.2L1377.2,454.8L1378.6,455.3L1380.0,455.8L1381.4,456.3L1382.8,456.7L1384.3,457.2L1385.7,457.6L1387.1,458.1L1388.6,458.5L1390.0,458.9L1391.5,459.2L1392.9,459.6L1394.4,459.9L1395.9,460.2L1397.3,460.5L1398.8,460.8L1400.3,461.1L1401.7,461.4L1403.2,461.7L1404.7,462.0L1406.2,462.3L1407.6,462.6L1409.1,462.9L1410.6,463.1L1412.1,463.4L1413.5,463.7L1415.0,464.0" stroke="#000000"/>
<path d="M887.8,350.4L889.4,350.5L890.8,350.6L892.3,350.7L893.8,350.8L895.3,350.9L896.8,351.0L898.3,351.1L899.8,351.2L901.3,351.2L902.8,351.3L904.3,351.3L905.8,351.4L907.3,351.4L908.8,351.4L910.3,351.3L911.8,351.3L913.3,351.2L914.8,351.0L916.3,350.9L917.8,350.7L919.2,350.5L920.7,350.3L922.2,350.0L923.7,349.8L925.2,349.5L926.6,349.3L928.1,349.0L929.6,348.7L931.1,348.4L932.5,348.1L934.0,347.8L935.5,347.5L937.0,347.2L938.4,347.0L939.9,346.7L941.4,346.4L942.8,346.1L944.3,345.8L945.8,345.5L947.3,345.3L948.7,345.0L950.2,344.7L951.7,344.4L953.1,344.1L954.6,343.8L956.1,343.5L957.6,343.1L959.0,342.8L960.5,342.5L962.0,342.2L963.4,342.0L964.9,341.7L966.4,341.4L967.9,341.1L969.3,340.8L970.8,340.5L972.3,340.3L973.8,340.0L975.2,339.8L976.7,339.5L978.2,339.3L979.7,339.1L981.2,338.8L982.7,338.6L984.1,338.3L985.6,338.1L987.1,337.9L988.6,337.6L990.1,337.3L991.5,337.0L993.0,336.7L994.5,336.4L995.9,336.1L997.4,335.7L998.8,335.3L1000.3,334.9L1001.7,334.5L1003.1,334.0L1004.6,333.6L1006.0,333.1L1007.4,332.6L1008.8,332.0L1010.2,331.5L1011.6,330.9L1013.0,330.3L1014.3,329.7L1015.7,329.1L1017.1,328.5L1018.4,327.8L1019.7,327.1L1021.0,326.3L1022.3,325.5L1023.5,324.7L1024.8,323.9L1026.0,323.0L1027.3,322.2L1028.6,321.5L1029.9,320.7L1031.2,320.0L1032.5,319.3L1033.8,318.6L1035.2,317.9L1036.5,317.2L1037.9,316.5L1039.2,315.8L1040.5,315.2L1041.9,314.5L1043.2,313.9L1044.6,313.2L1045.9,312.5L1047.3,311.9L1048.6,311.2L1050.0,310.6L1051.4,310.0L1052.7,309.3L1054.1,308.7L1055.4,308.1L1056.8,307.5L1058.2,306.8L1059.5,306.2L1060.9,305.6L1062.3,305.0L1063.7,304.5L1065.1,303.9L1066.5,303.3L1067.8,302.7L1069.2,302.1L1070.6,301.5L1072.0,300.9L1073.4,300.3L1074.7,299.7L1076.1,299.1L1077.4,298.5L1078.8,297.8L1080.2,297.2L1081.5,296.5L1082.9,295.9L1084.2,295.2L1085.6,294.6L1086.9,294.0L1088.3,293.3L1089.7,292.7L1091.0,292.1L1092.4,291.4L1093.8,290.8L1095.1,290.2L1096.5,289.6L1097.8,289.0L1099.2,288.3L1100.6,287.7L1101.9,287.0L1103.3,286.4L1104.6,285.7L1105.9,285.0L1107.3,284.3L1108.6,283.6L1109.9,282.9L1111.2,282.2L1112.5,281.5L1113.9,280.7L1115.2,280.0L1116.5,279.3L1117.8,278.5L1119.1,277.8L1120.4,277.0L1121.7,276.2L1122.9,275.4L1124.2,274.7L1125.5,273.9L1126.8,273.1L1128.0,272.3L1129.3,271.5L1130.6,270.8L1132.0,270.1L1133.3,269.4L1134.6,268.7L1136.0,268.2L1137.4,267.6L1138.9,267.2L1140.3,266.9L1141.8,266.6L1143.3,266.4L1144.8,266.3L1146.3,266.3L1147.8,266.4L1149.3,266.6L1150.7,267.0L1152.0,267.7L1153.2,268.5L1154.4,269.4L1155.6,270.4L1156.7,271.4L1157.8,272.4L1158.9,273.4L1159.9,274.5L1161.0,275.6L1162.1,276.6L1163.1,277.7L1164.2,278.7L1165.3,279.8L1166.4,280.8L1167.5,281.8L1168.6,282.8L1169.7,283.8L1170.9,284.8L1172.0,285.7L1173.2,286.7L1174.4,287.6L1175.6,288.5L1176.7,289.4L1177.9,290.4L1179.1,291.3L1180.4,292.1L1181.6,293.0L1182.9,293.8L1184.1,294.6L1185.5,295.3L1186.8,295.8L1188.3,296.1L1189.7,296.0L1191.2,295.7L1192.7,295.4L1194.1,295.1L1195.6,294.7L1197.0,294.3L1198.4,293.8L1199.8,293.2L1201.2,292.5L1202.4,291.7L1203.6,290.8L1204.7,289.8L1205.8,288.7L1206.8,287.6L1207.7,286.5L1208.6,285.3L1209.5,284.1L1210.4,282.8L1211.2,281.6L1212.0,280.3L1212.8,279.0L1213.6,277.7L1214.3,276.4L1215.1,275.1L1215.8,273.8L1216.5,272.5L1217.2,271.2L1217.9,269.8L1218.6,268.5L1219.2,267.2L1219.9,265.8L1220.5,264.4L1221.1,263.1L1221.7,261.7L1222.3,260.3L1222.9,258.9L1223.5,257.6L1224.0,256.2L1224.6,254.8L1225.2,253.4L1225.7,252.0L1226.2,250.6L1226.8,249.2L1227.3,247.8L1227.9,246.4L1228.4,245.0L1228.9,243.6L1229.4,242.2L1230.0,240.8L1230.5,239.4L1231.0,238.0L1231.6,236.6L1232.1,235.1L1232.7,233.8L1233.2,232.4L1233.8,231.0L1234.3,229.6L1234.9,228.2L1235.4,226.8L1236.0,225.4L1236.6,224.0L1237.1,222.6L1237.7,221.2L1238.2,219.8L1238.8,218.4L1239.4,217.0L1239.9,215.6L1240.5,214.2L1241.0,212.9L1241.6,211.5L1242.2,210.1L1242.7,208.7L1243.3,207.3L1243.8,205.9L1244.4,204.5L1244.9,203.1L1245.5,201.7L1246.0,200.3L1246.6,198.9L1247.1,197.5L1247.7,196.1L1248.2,194.7L1248.8,193.3L1249.3,191.9L1249.9,190.5L1250.4,189.1L1250.9,187.7L1251.4,186.3L1252.0,184.9L1252.5,183.5L1253.0,182.1L1253.5,180.7L1254.0,179.3L1254.5,177.8L1255.0,176.4L1255.5,175.0L1256.0,173.6L1256.6,172.2L1257.1,170.8L1257.6,169.4L1258.2,168.0L1258.7,166.6L1259.3,165.2L1259.8,163.8L1260.4,162.4L1261.0,161.1L1261.6,159.7L1262.2,158.3L1262.8,156.9L1263.5,155.6L1264.1,154.2L1264.8,152.9L1265.4,151.5L1266.1,150.2L1266.9,148.9L1267.7,147.6L1268.5,146.4L1269.4,145.2L1270.3,144.0L1271.4,142.9L1272.5,141.9L1273.7,141.1L1275.0,140.5L1276.5,140.2L1277.9,140.2L1279.3,140.7L1280.6,141.4L1281.6,142.5L1282.6,143.6L1283.4,144.9L1284.1,146.2L1284.8,147.5L1285.5,148.9L1286.1,150.2L1286.6,151.6L1287.2,153.0L1287.7,154.4L1288.2,155.9L1288.7,157.3L1289.2,158.7L1289.6,160.1L1290.1,161.6L1290.5,163.0L1290.9,164.4L1291.4,165.9L1291.8,167.3L1292.2,168.8L1292.6,170.2L1293.0,171.6L1293.4,173.1L1293.8,174.5L1294.1,176.0L1294.5,177.5L1294.8,178.9L1295.2,180.4L1295.5,181.8L1295.9,183.3L1296.2,184.8L1296.5,186.2L1296.8,187.7L1297.2,189.2L1297.5,190.6L1297.8,192.1L1298.1,193.6L1298.4,195.0L1298.7,196.5L1299.0,198.0L1299.3,199.4L1299.6,200.9L1299.9,202.4L1300.2,203.9L1300.5,205.3L1300.8,206.8L1301.1,208.3L1301.3,209.8L1301.6,211.2L1301.9,212.7L1302.2,214.2L1302.4,215.7L1302.7,217.1L1303.0,218.6L1303.2,220.1L1303.5,221.6L1303.8,223.0L1304.0,224.5L1304.3,226.0L1304.5,227.5L1304.8,229.0L1305.1,230.4L1305.3,231.9L1305.6,233.4L1305.8,234.9L1306.1,236.3L1306.4,237.8L1306.6,239.3L1306.9,240.8L1307.1,242.3L1307.4,243.7L1307.7,245.2L1307.9,246.7L1308.2,248.2L1308.5,249.6L1308.8,251.1L1309.0,252.6L1309.3,254.1L1309.6,255.5L1309.8,257.0L1310.1,258.5L1310.4,260.0L1310.6,261.4L1310.9,262.9L1311.2,264.4L1311.5,265.9L1311.7,267.3L1312.0,268.8L1312.3,270.3L1312.5,271.8L1312.8,273.3L1313.1,274.7L1313.3,276.2L1313.6,277.7L1313.9,279.2L1314.2,280.6L1314.4,282.1L1314.7,283.6L1315.0,285.1L1315.2,286.5L1315.5,288.0L1315.8,289.5L1316.0,291.0L1316.3,292.4L1316.5,293.9L1316.8,295.4L1317.0,296.9L1317.3,298.4L1317.6,299.8L1317.8,301.3L1318.1,302.8L1318.4,304.3L1318.7,305.7L1319.0,307.2L1319.3,308.7L1319.6,310.2L1319.9,311.6L1320.2,313.1L1320.5,314.6L1320.8,316.0L1321.1,317.5L1321.5,319.0L1321.8,320.4L1322.1,321.9L1322.4,323.4L1322.7,324.8L1323.1,326.3L1323.4,327.8L1323.7,329.2L1324.0,330.7L1324.4,332.1L1324.7,333.6L1325.0,335.1L1325.4,336.5L1325.7,338.0L1326.0,339.5L1326.4,340.9L1326.7,342.4L1327.1,343.8L1327.4,345.3L1327.8,346.8L1328.1,348.2L1328.5,349.7L1328.8,351.1L1329.2,352.6L1329.6,354.0L1330.0,355.5L1330.4,356.9L1330.7,358.4L1331.1,359.8L1331.5,361.3L1331.9,362.7L1332.4,364.2L1332.8,365.6L1333.2,367.1L1333.6,368.5L1334.0,369.9L1334.5,371.4L1334.9,372.8L1335.4,374.2L1335.8,375.7L1336.3,377.1L1336.8,378.5L1337.3,379.9L1337.8,381.3L1338.3,382.7L1338.9,384.1L1339.4,385.5L1340.0,386.9L1340.6,388.3L1341.3,389.6L1341.9,391.0L1342.6,392.3L1343.3,393.7L1344.0,395.0L1344.7,396.3L1345.5,397.6L1346.3,398.9L1347.1,400.1L1347.9,401.4L1348.7,402.6L1349.6,403.9L1350.5,405.0L1351.5,406.2L1352.4,407.4L1353.4,408.5L1354.4,409.6L1355.5,410.7L1356.6,411.7L1357.7,412.7L1358.9,413.6L1360.1,414.5L1361.4,415.3L1362.6,416.1L1363.9,416.8L1365.3,417.5L1366.6,418.2L1368.0,418.8L1369.3,419.5L1370.7,420.1L1372.1,420.7L1373.5,421.3L1374.8,421.8L1376.2,422.4L1377.6,422.9L1379.1,423.4L1380.5,423.9L1381.9,424.3L1383.4,424.8L1384.8,425.2L1386.2,425.6L1387.7,426.0L1389.2,426.3L1390.6,426.6L1392.1,426.9L1393.6,427.2L1395.0,427.5L1396.5,427.7L1398.0,427.9L1399.5,428.0L1401.0,428.1L1402.5,428.2L1404.0,428.3L1405.5,428.4L1407.0,428.4L1408.5,428.5L1410.0,428.5L1411.5,428.6L1413.0,428.6L1414.2,428.7L1415.0,428.7" stroke="#f81a00"/>
<path d="M887.8,423.8L889.4,423.6L890.8,423.3L892.3,423.1L893.7,422.9L895.2,422.7L896.7,422.5L898.2,422.2L899.7,422.0L901.2,421.8L902.6,421.5L904.1,421.3L905.6,421.0L907.1,420.8L908.5,420.5L910.0,420.2L911.5,419.9L913.0,419.6L914.4,419.2L915.9,418.9L917.3,418.5L918.8,418.2L920.2,417.8L921.7,417.4L923.1,417.0L924.6,416.7L926.0,416.3L927.5,415.8L928.9,415.4L930.4,415.0L931.8,414.6L933.2,414.2L934.7,413.7L936.1,413.3L937.5,412.8L939.0,412.4L940.4,411.9L941.8,411.5L943.3,411.0L944.7,410.5L946.1,410.0L947.5,409.5L948.9,408.9L950.3,408.4L951.7,407.9L953.1,407.3L954.5,406.8L955.9,406.3L957.3,405.7L958.7,405.2L960.1,404.6L961.5,404.1L962.9,403.6L964.3,403.1L965.7,402.6L967.2,402.1L968.6,401.6L970.0,401.1L971.4,400.7L972.9,400.2L974.3,399.8L975.7,399.3L977.2,398.9L978.6,398.5L980.1,398.1L981.5,397.7L982.9,397.3L984.4,396.9L985.8,396.5L987.3,396.0L988.7,395.6L990.2,395.2L991.6,394.8L993.0,394.3L994.5,393.9L995.9,393.4L997.3,392.9L998.7,392.4L1000.1,391.8L1001.5,391.3L1002.9,390.7L1004.3,390.1L1005.6,389.5L1007.0,388.9L1008.4,388.2L1009.7,387.6L1011.1,387.0L1012.4,386.4L1013.8,385.7L1015.2,385.1L1016.6,384.6L1018.0,384.0L1019.4,383.4L1020.8,382.9L1022.2,382.4L1023.6,381.9L1025.0,381.3L1026.4,380.8L1027.8,380.2L1029.1,379.6L1030.5,378.9L1031.8,378.3L1033.2,377.6L1034.5,376.9L1035.8,376.2L1037.1,375.4L1038.4,374.7L1039.7,373.9L1041.0,373.2L1042.3,372.4L1043.6,371.6L1044.9,370.9L1046.2,370.1L1047.5,369.3L1048.7,368.6L1050.0,367.8L1051.3,367.0L1052.6,366.2L1053.8,365.4L1055.1,364.6L1056.4,363.8L1057.7,363.0L1059.0,362.3L1060.3,361.5L1061.5,360.7L1062.8,360.0L1064.1,359.2L1065.4,358.5L1066.7,357.7L1068.0,357.0L1069.3,356.2L1070.6,355.5L1071.9,354.7L1073.2,354.0L1074.5,353.2L1075.8,352.5L1077.1,351.7L1078.4,351.0L1079.7,350.3L1081.1,349.5L1082.4,348.8L1083.7,348.1L1085.0,347.3L1086.3,346.6L1087.7,345.9L1089.0,345.3L1090.3,344.6L1091.7,344.0L1093.1,343.4L1094.5,342.8L1095.8,342.2L1097.2,341.5L1098.5,340.9L1099.9,340.2L1101.2,339.4L1102.5,338.7L1103.7,337.9L1105.0,337.0L1106.2,336.2L1107.4,335.3L1108.6,334.4L1109.8,333.5L1111.0,332.6L1112.2,331.7L1113.4,330.8L1114.6,329.9L1115.8,328.9L1116.9,328.0L1118.1,327.1L1119.3,326.2L1120.5,325.2L1121.7,324.3L1122.9,323.4L1124.1,322.6L1125.3,321.7L1126.6,320.8L1127.8,319.9L1129.0,319.0L1130.2,318.2L1131.4,317.3L1132.7,316.4L1133.9,315.6L1135.2,314.9L1136.6,314.2L1138.0,313.7L1139.4,313.3L1140.9,313.1L1142.4,313.1L1143.8,313.3L1145.2,313.7L1146.6,314.4L1147.9,315.1L1149.2,315.9L1150.4,316.7L1151.6,317.7L1152.7,318.7L1153.8,319.7L1154.9,320.8L1155.9,321.8L1157.0,322.9L1158.0,324.0L1159.0,325.1L1160.1,326.1L1161.1,327.2L1162.2,328.3L1163.3,329.3L1164.4,330.3L1165.5,331.4L1166.6,332.4L1167.7,333.4L1168.8,334.5L1169.8,335.5L1170.9,336.5L1172.1,337.5L1173.2,338.5L1174.4,339.4L1175.6,340.3L1176.8,341.2L1178.1,342.0L1179.4,342.7L1180.7,343.4L1182.1,344.0L1183.5,344.5L1184.9,344.9L1186.4,345.2L1187.9,345.4L1189.4,345.4L1190.8,345.2L1192.3,344.7L1193.6,344.1L1194.9,343.4L1196.1,342.5L1197.2,341.5L1198.3,340.4L1199.3,339.3L1200.4,338.2L1201.3,337.1L1202.3,335.9L1203.2,334.7L1204.0,333.5L1204.9,332.3L1205.7,331.0L1206.6,329.8L1207.4,328.5L1208.2,327.2L1208.9,325.9L1209.7,324.7L1210.5,323.4L1211.2,322.1L1212.0,320.8L1212.7,319.5L1213.5,318.2L1214.2,316.8L1214.9,315.5L1215.6,314.2L1216.3,312.9L1217.0,311.5L1217.6,310.2L1218.3,308.8L1218.9,307.5L1219.5,306.1L1220.2,304.7L1220.8,303.4L1221.4,302.0L1221.9,300.6L1222.5,299.2L1223.1,297.8L1223.6,296.4L1224.1,295.0L1224.7,293.6L1225.2,292.2L1225.7,290.8L1226.2,289.4L1226.7,288.0L1227.3,286.6L1227.8,285.2L1228.3,283.7L1228.7,282.3L1229.2,280.9L1229.7,279.5L1230.2,278.1L1230.7,276.6L1231.2,275.2L1231.7,273.8L1232.2,272.4L1232.7,271.0L1233.1,269.6L1233.6,268.1L1234.1,266.7L1234.6,265.3L1235.1,263.9L1235.6,262.5L1236.1,261.0L1236.5,259.6L1237.0,258.2L1237.5,256.8L1237.9,255.3L1238.4,253.9L1238.9,252.5L1239.3,251.1L1239.8,249.6L1240.3,248.2L1240.7,246.8L1241.2,245.3L1241.7,243.9L1242.1,242.5L1242.6,241.1L1243.1,239.6L1243.6,238.2L1244.1,236.8L1244.5,235.4L1245.0,234.0L1245.5,232.6L1246.0,231.1L1246.6,229.7L1247.1,228.3L1247.6,226.9L1248.1,225.5L1248.6,224.1L1249.2,222.7L1249.7,221.3L1250.2,219.9L1250.7,218.5L1251.3,217.1L1251.8,215.7L1252.4,214.3L1252.9,212.9L1253.4,211.5L1254.0,210.1L1254.5,208.7L1255.1,207.3L1255.6,205.9L1256.2,204.5L1256.7,203.1L1257.2,201.7L1257.8,200.3L1258.3,198.9L1258.8,197.5L1259.4,196.1L1259.9,194.7L1260.4,193.3L1261.0,191.9L1261.5,190.5L1262.1,189.1L1262.7,187.7L1263.3,186.3L1263.9,185.0L1264.6,183.6L1265.3,182.3L1266.1,181.0L1266.8,179.7L1267.7,178.5L1268.5,177.3L1269.4,176.1L1270.4,174.9L1271.5,173.9L1272.7,173.0L1274.0,172.3L1275.4,172.0L1276.9,172.0L1278.3,172.4L1279.6,173.1L1280.8,173.9L1282.0,174.9L1283.0,176.0L1283.9,177.2L1284.8,178.4L1285.6,179.7L1286.3,181.0L1287.0,182.3L1287.6,183.7L1288.2,185.1L1288.7,186.4L1289.3,187.8L1289.8,189.3L1290.3,190.7L1290.7,192.1L1291.2,193.5L1291.6,195.0L1292.0,196.4L1292.4,197.9L1292.7,199.3L1293.1,200.8L1293.4,202.3L1293.7,203.7L1294.0,205.2L1294.3,206.7L1294.6,208.1L1294.9,209.6L1295.2,211.1L1295.4,212.6L1295.7,214.0L1296.0,215.5L1296.2,217.0L1296.5,218.5L1296.7,220.0L1297.0,221.4L1297.3,222.9L1297.5,224.4L1297.8,225.9L1298.0,227.4L1298.2,228.8L1298.5,230.3L1298.7,231.8L1298.9,233.3L1299.2,234.8L1299.4,236.2L1299.6,237.7L1299.8,239.2L1300.0,240.7L1300.3,242.2L1300.5,243.7L1300.7,245.2L1300.9,246.6L1301.1,248.1L1301.3,249.6L1301.5,251.1L1301.7,252.6L1301.9,254.1L1302.1,255.6L1302.3,257.1L1302.4,258.5L1302.6,260.0L1302.8,261.5L1303.0,263.0L1303.1,264.5L1303.3,266.0L1303.5,267.5L1303.6,269.0L1303.8,270.5L1303.9,272.0L1304.1,273.5L1304.2,275.0L1304.4,276.4L1304.5,277.9L1304.7,279.4L1304.8,280.9L1305.0,282.4L1305.2,283.9L1305.3,285.4L1305.5,286.9L1305.6,288.4L1305.8,289.9L1305.9,291.4L1306.1,292.9L1306.2,294.4L1306.4,295.9L1306.6,297.3L1306.7,298.8L1306.9,300.3L1307.1,301.8L1307.3,303.3L1307.5,304.8L1307.8,306.3L1308.1,307.7L1308.4,309.2L1308.6,310.7L1308.9,312.2L1309.1,313.6L1309.3,315.1L1309.5,316.6L1309.7,318.1L1309.9,319.6L1310.1,321.1L1310.3,322.6L1310.5,324.1L1310.7,325.5L1310.9,327.0L1311.1,328.5L1311.3,330.0L1311.5,331.5L1311.7,333.0L1311.9,334.5L1312.0,336.0L1312.2,337.4L1312.4,338.9L1312.6,340.4L1312.8,341.9L1313.0,343.4L1313.2,344.9L1313.4,346.4L1313.6,347.9L1313.8,349.4L1314.0,350.8L1314.2,352.3L1314.4,353.8L1314.6,355.3L1314.8,356.8L1315.0,358.3L1315.2,359.8L1315.4,361.2L1315.6,362.7L1315.8,364.2L1316.1,365.7L1316.3,367.2L1316.5,368.7L1316.7,370.2L1316.9,371.6L1317.1,373.1L1317.4,374.6L1317.6,376.1L1317.8,377.6L1318.0,379.1L1318.2,380.6L1318.4,382.0L1318.6,383.5L1318.9,385.0L1319.1,386.5L1319.3,388.0L1319.5,389.5L1319.8,390.9L1320.0,392.4L1320.3,393.9L1320.5,395.4L1320.7,396.9L1321.0,398.3L1321.3,399.8L1321.5,401.3L1321.8,402.8L1322.1,404.2L1322.4,405.7L1322.7,407.2L1323.0,408.7L1323.3,410.1L1323.7,411.6L1324.0,413.0L1324.4,414.5L1324.7,416.0L1325.1,417.4L1325.5,418.9L1325.8,420.3L1326.2,421.8L1326.6,423.2L1327.0,424.7L1327.4,426.1L1327.9,427.5L1328.3,429.0L1328.7,430.4L1329.2,431.8L1329.6,433.3L1330.1,434.7L1330.6,436.1L1331.1,437.5L1331.5,439.0L1332.1,440.4L1332.6,441.8L1333.1,443.2L1333.6,444.6L1334.2,446.0L1334.7,447.4L1335.3,448.8L1335.8,450.2L1336.4,451.6L1337.0,452.9L1337.6,454.3L1338.2,455.7L1338.8,457.1L1339.4,458.4L1340.1,459.8L1340.7,461.1L1341.4,462.5L1342.1,463.8L1342.8,465.1L1343.5,466.5L1344.2,467.8L1345.0,469.1L1345.8,470.3L1346.6,471.6L1347.4,472.8L1348.3,474.1L1349.2,475.3L1350.1,476.5L1351.1,477.6L1352.0,478.8L1353.1,479.9L1354.1,480.9L1355.2,482.0L1356.3,483.0L1357.4,484.0L1358.6,484.9L1359.8,485.9L1361.0,486.7L1362.2,487.6L1363.5,488.4L1364.8,489.1L1366.1,489.9L1367.4,490.6L1368.8,491.2L1370.1,491.8L1371.5,492.4L1372.9,493.0L1374.3,493.5L1375.8,493.9L1377.2,494.4L1378.6,494.8L1380.1,495.2L1381.5,495.6L1383.0,496.0L1384.4,496.4L1385.9,496.7L1387.3,497.1L1388.8,497.4L1390.3,497.8L1391.7,498.1L1393.2,498.4L1394.7,498.7L1396.1,498.9L1397.6,499.2L1399.1,499.4L1400.6,499.6L1402.1,499.8L1403.6,500.0L1405.1,500.2L1406.6,500.3L1408.0,500.5L1409.5,500.7L1411.0,500.8L1412.5,501.0L1413.8,501.2L1415.0,501.3" stroke="#1020ff"/>
<path d="M887.8,407.1L889.4,407.2L890.8,407.3L892.3,407.4L893.8,407.5L895.3,407.6L896.8,407.7L898.3,407.7L899.8,407.8L901.3,407.9L902.8,408.0L904.3,408.1L905.8,408.2L907.3,408.3L908.8,408.3L910.3,408.4L911.8,408.5L913.3,408.5L914.8,408.6L916.3,408.6L917.8,408.7L919.3,408.7L920.8,408.7L922.3,408.8L923.8,408.8L925.3,408.8L926.8,408.9L928.3,408.9L929.8,408.9L931.3,408.9L932.8,409.0L934.3,409.0L935.8,409.0L937.3,409.0L938.8,409.0L940.3,409.0L941.8,409.0L943.3,409.0L944.8,409.0L946.3,409.0L947.8,408.9L949.3,408.9L950.8,408.9L952.3,408.9L953.8,408.8L955.3,408.8L956.8,408.8L958.3,408.7L959.8,408.7L961.3,408.7L962.8,408.6L964.3,408.6L965.8,408.6L967.3,408.5L968.8,408.5L970.3,408.5L971.8,408.5L973.3,408.4L974.8,408.4L976.3,408.4L977.8,408.4L979.3,408.4L980.8,408.4L982.3,408.3L983.8,408.3L985.3,408.3L986.8,408.3L988.3,408.2L989.8,408.2L991.3,408.2L992.8,408.1L994.3,408.0L995.8,407.9L997.3,407.9L998.8,407.8L1000.3,407.7L1001.8,407.5L1003.2,407.4L1004.7,407.3L1006.2,407.1L1007.7,407.0L1009.2,406.8L1010.7,406.7L1012.2,406.5L1013.7,406.4L1015.2,406.2L1016.7,406.0L1018.2,405.8L1019.7,405.7L1021.1,405.5L1022.6,405.3L1024.1,405.2L1025.6,405.0L1027.1,404.8L1028.6,404.7L1030.1,404.5L1031.6,404.3L1033.1,404.2L1034.6,404.0L1036.1,403.8L1037.5,403.6L1039.0,403.4L1040.5,403.2L1042.0,402.9L1043.5,402.6L1044.9,402.3L1046.4,401.9L1047.8,401.5L1049.2,400.9L1050.6,400.4L1052.0,399.8L1053.3,399.2L1054.7,398.5L1056.1,398.0L1057.5,397.4L1058.9,396.9L1060.3,396.4L1061.8,396.0L1063.2,395.6L1064.7,395.3L1066.1,394.9L1067.6,394.6L1069.1,394.3L1070.5,394.0L1072.0,393.6L1073.5,393.3L1074.9,393.0L1076.4,392.8L1077.9,392.5L1079.3,392.2L1080.8,391.9L1082.3,391.6L1083.8,391.3L1085.2,391.0L1086.7,390.7L1088.2,390.4L1089.7,390.2L1091.1,389.9L1092.6,389.6L1094.1,389.4L1095.6,389.1L1097.0,388.8L1098.5,388.6L1100.0,388.3L1101.5,388.0L1102.9,387.8L1104.4,387.5L1105.9,387.2L1107.4,387.0L1108.8,386.7L1110.3,386.4L1111.8,386.1L1113.2,385.8L1114.7,385.4L1116.2,385.1L1117.6,384.7L1119.1,384.3L1120.5,383.8L1121.9,383.4L1123.4,382.9L1124.8,382.5L1126.2,382.0L1127.6,381.5L1129.1,381.1L1130.5,380.7L1132.0,380.3L1133.4,379.9L1134.9,379.6L1136.3,379.2L1137.8,378.8L1139.2,378.5L1140.7,378.2L1142.2,378.0L1143.7,377.9L1145.2,377.9L1146.7,378.0L1148.2,378.2L1149.7,378.4L1151.1,378.8L1152.6,379.2L1154.0,379.6L1155.4,380.1L1156.8,380.7L1158.2,381.3L1159.5,382.0L1160.8,382.7L1162.1,383.5L1163.3,384.4L1164.5,385.3L1165.6,386.3L1166.8,387.2L1167.9,388.2L1169.1,389.1L1170.3,390.1L1171.4,391.0L1172.7,391.9L1173.9,392.7L1175.2,393.4L1176.5,394.1L1177.9,394.8L1179.2,395.5L1180.6,396.1L1182.0,396.7L1183.4,397.2L1184.8,397.8L1186.2,398.3L1187.6,398.9L1189.0,399.4L1190.4,399.9L1191.8,400.1L1193.3,399.9L1194.7,399.5L1196.1,399.1L1197.5,398.5L1198.9,397.9L1200.2,397.3L1201.6,396.6L1202.9,395.9L1204.2,395.2L1205.5,394.4L1206.8,393.6L1208.0,392.7L1209.2,391.8L1210.3,390.9L1211.5,389.9L1212.6,388.9L1213.7,387.9L1214.8,386.8L1215.8,385.8L1216.9,384.7L1217.9,383.6L1218.9,382.5L1219.9,381.3L1220.8,380.2L1221.7,379.0L1222.6,377.8L1223.5,376.6L1224.4,375.4L1225.2,374.1L1226.1,372.9L1226.9,371.6L1227.7,370.4L1228.5,369.1L1229.3,367.8L1230.1,366.5L1230.8,365.2L1231.6,363.9L1232.3,362.6L1233.1,361.3L1233.8,360.0L1234.6,358.7L1235.3,357.4L1236.0,356.1L1236.7,354.8L1237.4,353.5L1238.1,352.1L1238.8,350.8L1239.5,349.4L1240.1,348.1L1240.8,346.7L1241.4,345.4L1242.1,344.0L1242.7,342.7L1243.4,341.3L1244.0,340.0L1244.7,338.6L1245.3,337.3L1246.0,335.9L1246.7,334.6L1247.3,333.2L1248.0,331.9L1248.7,330.6L1249.4,329.3L1250.2,328.0L1250.9,326.6L1251.6,325.3L1252.4,324.0L1253.1,322.7L1253.9,321.4L1254.6,320.1L1255.4,318.8L1256.2,317.6L1257.0,316.3L1257.7,315.0L1258.5,313.7L1259.4,312.5L1260.2,311.2L1261.0,310.0L1261.9,308.8L1262.8,307.5L1263.7,306.3L1264.6,305.2L1265.6,304.0L1266.6,302.9L1267.6,301.8L1268.7,300.8L1269.8,299.8L1271.0,298.9L1272.2,298.0L1273.5,297.2L1274.9,296.6L1276.3,296.1L1277.7,295.8L1279.2,295.8L1280.6,296.2L1281.9,296.9L1283.1,297.8L1284.1,298.9L1285.0,300.0L1285.9,301.3L1286.7,302.6L1287.4,303.9L1288.1,305.2L1288.9,306.5L1289.5,307.8L1290.2,309.2L1290.9,310.5L1291.6,311.8L1292.2,313.2L1292.9,314.5L1293.5,315.9L1294.1,317.3L1294.7,318.7L1295.2,320.1L1295.7,321.5L1296.3,322.9L1296.8,324.3L1297.3,325.7L1297.8,327.1L1298.3,328.5L1298.8,329.9L1299.3,331.3L1299.8,332.8L1300.3,334.2L1300.8,335.6L1301.3,337.0L1301.8,338.4L1302.3,339.8L1302.8,341.3L1303.2,342.7L1303.7,344.1L1304.2,345.5L1304.7,347.0L1305.1,348.4L1305.6,349.8L1306.0,351.2L1306.5,352.7L1306.9,354.1L1307.4,355.5L1307.8,357.0L1308.3,358.4L1308.7,359.8L1309.1,361.3L1309.6,362.7L1310.0,364.2L1310.4,365.6L1310.9,367.0L1311.3,368.5L1311.7,369.9L1312.1,371.3L1312.6,372.8L1313.0,374.2L1313.4,375.7L1313.8,377.1L1314.3,378.5L1314.7,380.0L1315.1,381.4L1315.5,382.9L1316.0,384.3L1316.4,385.7L1316.8,387.2L1317.3,388.6L1317.7,390.0L1318.1,391.5L1318.5,392.9L1319.0,394.4L1319.4,395.8L1319.8,397.2L1320.2,398.7L1320.6,400.1L1321.1,401.6L1321.5,403.0L1321.9,404.4L1322.3,405.9L1322.7,407.3L1323.2,408.8L1323.6,410.2L1324.0,411.6L1324.5,413.1L1324.9,414.5L1325.4,415.9L1325.8,417.4L1326.3,418.8L1326.7,420.2L1327.2,421.6L1327.7,423.1L1328.2,424.5L1328.6,425.9L1329.1,427.3L1329.6,428.8L1330.0,430.2L1330.5,431.6L1331.0,433.0L1331.5,434.5L1332.0,435.9L1332.5,437.3L1333.0,438.7L1333.5,440.1L1334.1,441.5L1334.6,442.9L1335.2,444.3L1335.8,445.6L1336.4,447.0L1337.1,448.4L1337.8,449.7L1338.5,451.0L1339.2,452.3L1339.9,453.6L1340.7,454.9L1341.4,456.2L1342.2,457.5L1343.1,458.8L1343.9,460.0L1344.8,461.2L1345.7,462.4L1346.7,463.5L1347.7,464.7L1348.7,465.8L1349.8,466.8L1350.9,467.8L1352.0,468.8L1353.2,469.7L1354.4,470.6L1355.6,471.4L1356.9,472.2L1358.2,473.0L1359.5,473.7L1360.9,474.4L1362.2,475.0L1363.6,475.6L1365.0,476.2L1366.4,476.8L1367.8,477.3L1369.2,477.8L1370.6,478.3L1372.0,478.8L1373.4,479.3L1374.9,479.7L1376.3,480.1L1377.8,480.4L1379.3,480.7L1380.7,481.0L1382.2,481.2L1383.7,481.4L1385.2,481.6L1386.7,481.7L1388.2,481.9L1389.7,482.1L1391.2,482.3L1392.7,482.4L1394.1,482.6L1395.6,482.8L1397.1,483.0L1398.6,483.2L1400.1,483.4L1401.6,483.6L1403.1,483.8L1404.6,483.9L1406.1,484.1L1407.5,484.3L1409.0,484.4L1410.5,484.6L1412.0,484.8L1413.4,484.9L1415.0,485.1" stroke="#088080"/>
<path d="M887.8,353.2L889.4,353.4L890.8,353.5L892.3,353.7L893.8,353.8L895.3,354.0L896.8,354.1L898.3,354.3L899.7,354.4L901.2,354.6L902.7,354.7L904.2,354.9L905.7,355.1L907.2,355.2L908.7,355.4L910.2,355.6L911.7,355.8L913.2,356.0L914.6,356.3L916.1,356.5L917.6,356.8L919.1,357.0L920.6,357.3L922.0,357.6L923.5,357.9L925.0,358.1L926.5,358.4L927.9,358.7L929.4,359.0L930.9,359.3L932.3,359.6L933.8,359.8L935.3,360.1L936.8,360.4L938.3,360.6L939.7,360.8L941.2,361.1L942.7,361.3L944.2,361.5L945.7,361.7L947.2,361.8L948.7,362.0L950.2,362.2L951.7,362.3L953.1,362.5L954.6,362.7L956.1,362.8L957.6,363.0L959.1,363.1L960.6,363.3L962.1,363.5L963.6,363.6L965.1,363.8L966.6,364.0L968.1,364.2L969.5,364.4L971.0,364.6L972.5,364.9L974.0,365.1L975.5,365.3L977.0,365.6L978.4,365.9L979.9,366.1L981.4,366.4L982.9,366.6L984.3,366.9L985.8,367.2L987.3,367.4L988.8,367.7L990.3,367.9L991.7,368.1L993.2,368.4L994.7,368.6L996.2,368.7L997.7,368.9L999.2,369.1L1000.7,369.2L1002.2,369.4L1003.7,369.5L1005.2,369.6L1006.7,369.7L1008.2,369.8L1009.7,369.9L1011.2,369.9L1012.7,370.0L1014.2,370.0L1015.7,370.0L1017.2,369.9L1018.7,369.9L1020.2,369.8L1021.7,369.7L1023.2,369.6L1024.7,369.5L1026.1,369.3L1027.6,369.1L1029.1,368.9L1030.6,368.7L1032.1,368.5L1033.6,368.3L1035.1,368.1L1036.6,367.9L1038.0,367.7L1039.5,367.5L1041.0,367.4L1042.5,367.3L1044.0,367.2L1045.5,367.1L1047.0,367.1L1048.5,367.2L1050.0,367.3L1051.5,367.4L1053.0,367.7L1054.5,367.9L1056.0,368.1L1057.4,368.3L1058.9,368.5L1060.4,368.6L1061.9,368.8L1063.4,368.9L1064.9,369.0L1066.4,369.1L1067.9,369.3L1069.4,369.4L1070.9,369.5L1072.4,369.6L1073.9,369.8L1075.4,369.9L1076.9,370.0L1078.4,370.1L1079.9,370.2L1081.4,370.3L1082.9,370.4L1084.4,370.5L1085.9,370.6L1087.4,370.6L1088.9,370.7L1090.4,370.7L1091.9,370.8L1093.4,370.8L1094.9,370.8L1096.4,370.8L1097.9,370.8L1099.4,370.8L1100.9,370.8L1102.4,370.7L1103.9,370.7L1105.4,370.6L1106.9,370.6L1108.4,370.5L1109.9,370.5L1111.4,370.4L1112.9,370.4L1114.4,370.3L1115.9,370.2L1117.4,370.2L1118.9,370.1L1120.4,370.1L1121.9,370.0L1123.4,369.9L1124.9,369.9L1126.4,369.8L1127.9,369.8L1129.4,369.8L1130.9,369.7L1132.4,369.7L1133.9,369.6L1135.4,369.6L1136.9,369.5L1138.4,369.5L1139.9,369.5L1141.4,369.5L1142.9,369.6L1144.4,369.7L1145.9,369.8L1147.4,370.0L1148.9,370.2L1150.3,370.4L1151.8,370.6L1153.3,370.8L1154.8,371.0L1156.3,371.3L1157.8,371.6L1159.2,371.8L1160.7,372.1L1162.2,372.4L1163.7,372.7L1165.1,373.0L1166.6,373.2L1168.1,373.6L1169.5,373.9L1171.0,374.3L1172.4,374.7L1173.9,375.1L1175.3,375.5L1176.8,375.9L1178.2,376.3L1179.7,376.6L1181.2,376.8L1182.6,377.0L1184.1,377.3L1185.6,377.5L1187.1,377.7L1188.6,377.9L1190.1,378.0L1191.6,378.2L1193.1,378.4L1194.6,378.5L1196.1,378.6L1197.6,378.7L1199.1,378.8L1200.6,378.8L1202.1,378.8L1203.6,378.7L1205.1,378.7L1206.6,378.6L1208.0,378.4L1209.5,378.2L1211.0,378.1L1212.5,377.8L1214.0,377.6L1215.5,377.3L1216.9,377.1L1218.4,376.8L1219.9,376.5L1221.4,376.2L1222.8,375.9L1224.3,375.6L1225.8,375.2L1227.2,374.8L1228.6,374.4L1230.1,373.9L1231.5,373.4L1232.9,372.9L1234.3,372.4L1235.7,371.9L1237.1,371.4L1238.5,370.9L1239.9,370.3L1241.3,369.8L1242.7,369.2L1244.1,368.7L1245.5,368.1L1246.9,367.5L1248.3,366.9L1249.6,366.3L1251.0,365.7L1252.4,365.0L1253.7,364.3L1255.0,363.6L1256.3,362.8L1257.6,362.0L1258.8,361.2L1260.1,360.4L1261.3,359.6L1262.6,358.8L1263.9,358.0L1265.2,357.2L1266.5,356.5L1267.8,355.8L1269.2,355.1L1270.5,354.4L1271.8,353.8L1273.2,353.1L1274.6,352.6L1276.0,352.1L1277.5,351.8L1278.9,351.6L1280.4,351.6L1281.9,351.7L1283.4,352.0L1284.8,352.3L1286.3,352.8L1287.7,353.3L1289.1,353.9L1290.4,354.5L1291.8,355.2L1293.0,356.0L1294.2,356.9L1295.4,357.9L1296.5,358.9L1297.5,359.9L1298.7,361.0L1299.8,361.9L1301.0,362.8L1302.2,363.7L1303.5,364.5L1304.7,365.4L1305.9,366.2L1307.2,367.1L1308.4,368.0L1309.6,368.9L1310.8,369.8L1311.9,370.8L1313.0,371.8L1314.2,372.8L1315.2,373.8L1316.3,374.8L1317.4,375.9L1318.4,377.0L1319.5,378.1L1320.5,379.1L1321.6,380.2L1322.6,381.3L1323.6,382.4L1324.7,383.5L1325.7,384.5L1326.8,385.6L1327.8,386.7L1328.9,387.7L1330.0,388.8L1331.0,389.8L1332.1,390.9L1333.2,391.9L1334.3,393.0L1335.3,394.0L1336.4,395.1L1337.5,396.1L1338.6,397.2L1339.7,398.2L1340.8,399.2L1341.9,400.2L1343.0,401.2L1344.2,402.2L1345.3,403.1L1346.5,404.0L1347.8,404.9L1349.0,405.7L1350.3,406.4L1351.6,407.2L1352.9,407.9L1354.3,408.5L1355.7,409.1L1357.1,409.7L1358.5,410.2L1359.9,410.6L1361.3,411.1L1362.8,411.5L1364.2,411.8L1365.7,412.2L1367.2,412.5L1368.7,412.8L1370.1,413.0L1371.6,413.3L1373.1,413.4L1374.6,413.6L1376.1,413.8L1377.6,413.9L1379.1,414.1L1380.6,414.2L1382.1,414.3L1383.6,414.4L1385.1,414.6L1386.6,414.7L1388.1,414.8L1389.5,414.9L1391.0,415.1L1392.5,415.2L1394.0,415.3L1395.5,415.4L1397.0,415.5L1398.5,415.6L1400.0,415.7L1401.5,415.8L1403.0,415.9L1404.5,416.0L1406.0,416.1L1407.5,416.2L1409.0,416.3L1410.5,416.4L1412.0,416.5L1413.4,416.6L1415.0,416.7" stroke="#ff25ff"/>
<path d="M887.8,447.6L889.4,447.8L890.8,447.9L892.3,448.1L893.8,448.3L895.2,448.5L896.7,448.6L898.2,448.8L899.7,449.0L901.2,449.2L902.7,449.3L904.2,449.5L905.7,449.6L907.2,449.8L908.7,449.9L910.2,450.1L911.7,450.2L913.2,450.3L914.6,450.4L916.1,450.5L917.6,450.7L919.1,450.8L920.6,450.9L922.1,451.0L923.6,451.0L925.1,451.1L926.6,451.2L928.1,451.3L929.6,451.4L931.1,451.4L932.6,451.5L934.1,451.5L935.6,451.6L937.1,451.6L938.6,451.7L940.1,451.7L941.6,451.7L943.1,451.7L944.6,451.7L946.1,451.7L947.6,451.7L949.1,451.6L950.6,451.6L952.1,451.5L953.6,451.5L955.1,451.4L956.6,451.4L958.1,451.3L959.6,451.3L961.1,451.2L962.6,451.1L964.1,451.1L965.6,451.0L967.1,451.0L968.6,450.9L970.1,450.9L971.6,450.8L973.1,450.8L974.6,450.7L976.1,450.7L977.6,450.6L979.1,450.6L980.6,450.5L982.1,450.5L983.6,450.4L985.1,450.4L986.6,450.3L988.1,450.2L989.6,450.2L991.1,450.1L992.6,450.0L994.1,449.9L995.6,449.9L997.1,449.8L998.6,449.7L1000.1,449.6L1001.6,449.5L1003.1,449.4L1004.6,449.3L1006.1,449.2L1007.6,449.1L1009.1,449.0L1010.5,448.9L1012.0,448.8L1013.5,448.7L1015.0,448.6L1016.5,448.5L1018.0,448.3L1019.5,448.2L1021.0,448.0L1022.5,447.9L1024.0,447.7L1025.5,447.5L1027.0,447.3L1028.4,447.0L1029.9,446.7L1031.4,446.5L1032.9,446.2L1034.3,445.8L1035.8,445.5L1037.2,445.2L1038.7,444.8L1040.2,444.5L1041.6,444.1L1043.1,443.8L1044.6,443.5L1046.0,443.2L1047.5,442.9L1049.0,442.5L1050.4,442.2L1051.9,441.9L1053.3,441.6L1054.8,441.2L1056.3,440.9L1057.7,440.6L1059.2,440.3L1060.7,440.0L1062.1,439.7L1063.6,439.4L1065.1,439.1L1066.6,438.8L1068.0,438.5L1069.5,438.3L1071.0,438.0L1072.5,437.8L1074.0,437.6L1075.4,437.4L1076.9,437.2L1078.4,437.0L1079.9,436.8L1081.4,436.6L1082.9,436.4L1084.4,436.2L1085.9,436.0L1087.3,435.8L1088.8,435.6L1090.3,435.4L1091.8,435.2L1093.3,434.9L1094.8,434.7L1096.2,434.5L1097.7,434.3L1099.2,434.0L1100.7,433.8L1102.2,433.5L1103.7,433.3L1105.1,433.0L1106.6,432.8L1108.1,432.5L1109.6,432.3L1111.0,432.0L1112.5,431.8L1114.0,431.5L1115.5,431.2L1116.9,430.9L1118.4,430.6L1119.9,430.3L1121.3,430.0L1122.8,429.7L1124.3,429.4L1125.7,429.0L1127.2,428.7L1128.7,428.4L1130.2,428.2L1131.6,427.9L1133.1,427.6L1134.6,427.4L1136.1,427.1L1137.5,426.8L1139.0,426.6L1140.5,426.4L1142.0,426.3L1143.5,426.2L1145.0,426.2L1146.5,426.3L1148.0,426.4L1149.5,426.7L1150.9,426.9L1152.4,427.3L1153.8,427.7L1155.3,428.1L1156.7,428.6L1158.1,429.1L1159.5,429.6L1160.9,430.2L1162.3,430.8L1163.6,431.5L1164.9,432.1L1166.3,432.9L1167.6,433.6L1168.9,434.3L1170.2,435.0L1171.5,435.7L1172.9,436.4L1174.2,437.1L1175.6,437.7L1176.9,438.3L1178.3,438.8L1179.8,439.3L1181.2,439.8L1182.6,440.3L1184.1,440.7L1185.5,441.0L1187.0,441.3L1188.5,441.5L1190.0,441.7L1191.5,441.8L1193.0,441.8L1194.5,441.7L1195.9,441.6L1197.4,441.5L1198.9,441.3L1200.4,441.0L1201.9,440.7L1203.3,440.4L1204.8,440.0L1206.2,439.5L1207.6,439.0L1209.0,438.4L1210.4,437.9L1211.7,437.2L1213.1,436.6L1214.4,435.9L1215.7,435.1L1217.0,434.4L1218.3,433.6L1219.6,432.8L1220.8,432.0L1222.0,431.1L1223.2,430.2L1224.4,429.3L1225.6,428.4L1226.8,427.4L1227.9,426.4L1229.0,425.4L1230.1,424.4L1231.2,423.3L1232.2,422.3L1233.3,421.2L1234.3,420.1L1235.4,419.1L1236.4,418.0L1237.4,416.8L1238.4,415.7L1239.4,414.6L1240.4,413.5L1241.4,412.3L1242.3,411.2L1243.3,410.0L1244.2,408.8L1245.1,407.6L1246.0,406.4L1246.9,405.2L1247.8,404.0L1248.7,402.8L1249.5,401.6L1250.4,400.4L1251.3,399.2L1252.1,397.9L1253.0,396.7L1253.9,395.5L1254.8,394.3L1255.7,393.1L1256.6,391.9L1257.5,390.7L1258.5,389.6L1259.4,388.4L1260.4,387.2L1261.3,386.1L1262.3,384.9L1263.3,383.8L1264.3,382.7L1265.3,381.5L1266.3,380.4L1267.3,379.3L1268.3,378.2L1269.4,377.2L1270.5,376.2L1271.6,375.2L1272.8,374.2L1274.0,373.4L1275.3,372.7L1276.7,372.2L1278.2,371.9L1279.7,371.9L1281.1,371.9L1282.6,372.1L1284.1,372.4L1285.4,373.0L1286.6,373.9L1287.7,374.9L1288.7,376.0L1289.6,377.2L1290.5,378.4L1291.3,379.7L1292.1,381.0L1292.9,382.2L1293.6,383.5L1294.4,384.8L1295.1,386.1L1295.9,387.4L1296.6,388.8L1297.3,390.1L1298.0,391.4L1298.7,392.7L1299.4,394.1L1300.1,395.4L1300.8,396.7L1301.4,398.1L1302.1,399.4L1302.8,400.7L1303.4,402.1L1304.1,403.5L1304.7,404.8L1305.3,406.2L1306.0,407.5L1306.6,408.9L1307.2,410.3L1307.8,411.6L1308.4,413.0L1309.0,414.4L1309.6,415.8L1310.2,417.1L1310.8,418.5L1311.4,419.9L1312.0,421.3L1312.6,422.7L1313.1,424.0L1313.7,425.4L1314.3,426.8L1314.9,428.2L1315.5,429.5L1316.1,430.9L1316.7,432.3L1317.3,433.7L1317.9,435.0L1318.5,436.4L1319.1,437.8L1319.6,439.2L1320.2,440.6L1320.8,442.0L1321.3,443.4L1321.9,444.8L1322.5,446.2L1323.0,447.5L1323.6,448.9L1324.2,450.3L1324.8,451.7L1325.4,453.1L1326.0,454.4L1326.6,455.8L1327.2,457.2L1327.9,458.5L1328.6,459.8L1329.3,461.2L1330.0,462.5L1330.8,463.8L1331.6,465.0L1332.4,466.3L1333.2,467.6L1334.1,468.8L1334.9,470.0L1335.8,471.2L1336.7,472.4L1337.6,473.6L1338.6,474.8L1339.5,475.9L1340.5,477.1L1341.5,478.2L1342.6,479.3L1343.6,480.3L1344.7,481.4L1345.8,482.4L1346.9,483.4L1348.1,484.3L1349.3,485.2L1350.5,486.1L1351.8,486.9L1353.1,487.6L1354.5,488.2L1355.8,488.8L1357.3,489.2L1358.7,489.7L1360.1,490.1L1361.6,490.5L1363.0,490.8L1364.5,491.2L1366.0,491.6L1367.4,491.9L1368.9,492.3L1370.3,492.6L1371.8,492.9L1373.3,493.2L1374.8,493.4L1376.2,493.7L1377.7,493.9L1379.2,494.2L1380.7,494.4L1382.2,494.6L1383.7,494.8L1385.1,495.0L1386.6,495.2L1388.1,495.4L1389.6,495.6L1391.1,495.8L1392.6,496.0L1394.1,496.1L1395.6,496.3L1397.1,496.4L1398.5,496.5L1400.0,496.7L1401.5,496.8L1403.0,496.9L1404.5,497.0L1406.0,497.1L1407.5,497.3L1409.0,497.4L1410.5,497.5L1412.0,497.6L1413.4,497.7L1415.0,497.8" stroke="#828008"/>
</g>
<defs><radialGradient id="g1" cx="0.5" cy="0.5" r="0.5"><stop offset="0" stop-color="#0f4298"/><stop offset="0.7" stop-color="#1349a4"/><stop offset="1" stop-color="#1a56b6"/></radialGradient><linearGradient id="g4" x1="0" y1="0" x2="1" y2="0"><stop offset="0" stop-color="#4676bc"/><stop offset="1" stop-color="#3060aa"/></linearGradient><linearGradient id="g5" x1="0" y1="0" x2="1" y2="0"><stop offset="0" stop-color="#5a88c6"/><stop offset="1" stop-color="#3b6fb6"/></linearGradient><linearGradient id="g6" x1="0" y1="0" x2="1" y2="1"><stop offset="0" stop-color="#8db0d4"/><stop offset="1" stop-color="#6f98c8"/></linearGradient></defs>
<rect x="1415.0" y="19.4" width="75.0" height="494.2" fill="#e2dfd0"/>
<rect x="1415.0" y="19.4" width="75.0" height="78.2" fill="#e9e7da"/>
<rect x="1415.0" y="97.6" width="75.0" height="82.2" fill="#e8e6d9"/>
<rect x="1415.0" y="179.8" width="75.0" height="82.8" fill="#e8e6d8"/>
<rect x="1415.0" y="262.6" width="75.0" height="82.4" fill="#dcd8c6"/>
<rect x="1415.0" y="345.0" width="75.0" height="84.0" fill="#e3dfcf"/>
<rect x="1415.0" y="429.0" width="75.0" height="84.6" fill="#e5e2d2"/>
<g filter="url(#bl)">
<path d="M1418.0,54.0 C1418.0,34.9 1432.9,22.0 1452.0,22.0 C1471.1,22.0 1486.3,34.9 1486.3,54.0 C1486.3,77.9 1466.7,89.0 1451.3,92.5 C1435.9,89.0 1418.0,77.9 1418.0,54.0 Z" fill="#1a5ac2"/>
<path d="M1417.5,138.0 C1417.5,118.7 1432.7,103.8 1452.0,103.8 C1471.3,103.8 1486.3,118.7 1486.3,138.0 C1486.3,160.2 1466.8,170.3 1451.3,173.8 C1435.8,170.3 1417.5,160.2 1417.5,138.0 Z" fill="#1a5ac2"/>
<ellipse cx="1454.0" cy="220.0" rx="32.3" ry="34.3" fill="#1a5ac2"/>
<path d="M1421.7,300.0 C1421.7,281.5 1436.2,268.6 1454.7,268.6 C1473.2,268.6 1487.7,281.5 1487.7,300.0 C1487.7,322.7 1469.8,333.1 1455.0,336.6 C1440.2,333.1 1421.7,322.7 1421.7,300.0 Z" fill="url(#g4)"/>
<path d="M1419.7,385.0 C1419.7,366.8 1434.0,352.2 1452.2,352.2 C1470.4,352.2 1484.6,366.8 1484.6,385.0 C1484.6,408.5 1466.6,419.4 1452.0,422.9 C1437.4,419.4 1419.7,408.5 1419.7,385.0 Z" fill="url(#g5)"/>
<ellipse cx="1452.7" cy="469.0" rx="35.0" ry="34.5" fill="url(#g6)"/>
</g>
<g stroke="#45443c" stroke-width="1.3" fill="none">
<line x1="1415.0" y1="97.6" x2="1490.0" y2="97.6"/>
<line x1="1415.0" y1="179.8" x2="1490.0" y2="179.8"/>
<line x1="1415.0" y1="262.6" x2="1490.0" y2="262.6"/>
<line x1="1415.0" y1="345.0" x2="1490.0" y2="345.0"/>
<line x1="1415.0" y1="429.0" x2="1490.0" y2="429.0"/>
<line x1="1415.0" y1="513.6" x2="1490.0" y2="513.6"/>
</g>
<line x1="1414.8" y1="19.4" x2="1414.8" y2="513.6" stroke="#6e6e6a" stroke-width="1.6"/>
<g stroke="#000" stroke-width="1.8" stroke-dasharray="3.6 2.2" fill="none">
<line x1="1278.0" y1="65.6" x2="1399" y2="65.6"/>
<line x1="1278.0" y1="139.0" x2="1399" y2="139.0"/>
<line x1="1295.0" y1="223.8" x2="1399" y2="223.8"/>
<line x1="1279.0" y1="296.4" x2="1399" y2="296.4"/>
<line x1="1305.5" y1="366.8" x2="1399" y2="366.8"/>
<line x1="1323.0" y1="450.6" x2="1399" y2="450.6"/>
</g>
<g fill="#000">
<path d="M1398,61.8 L1413,65.6 L1398,69.4 Z"/>
<path d="M1398,135.2 L1413,139.0 L1398,142.8 Z"/>
<path d="M1398,220.0 L1413,223.8 L1398,227.6 Z"/>
<path d="M1398,292.6 L1413,296.4 L1398,300.2 Z"/>
<path d="M1398,363.0 L1413,366.8 L1398,370.6 Z"/>
<path d="M1398,446.8 L1413,450.6 L1398,454.4 Z"/>
</g>
<g stroke="#000" stroke-width="2.6" fill="none" stroke-linecap="square">
<path d="M886.8,18.2 H1491.0 V545.6 H886.8 Z"/>
</g>
<g stroke="#000" stroke-width="2.6">
<line x1="880.8" y1="531.3" x2="886.8" y2="531.3"/>
<line x1="875.8" y1="489.6" x2="886.8" y2="489.6"/>
<line x1="880.8" y1="447.9" x2="886.8" y2="447.9"/>
<line x1="875.8" y1="406.3" x2="886.8" y2="406.3"/>
<line x1="880.8" y1="364.6" x2="886.8" y2="364.6"/>
<line x1="875.8" y1="323.0" x2="886.8" y2="323.0"/>
<line x1="880.8" y1="281.3" x2="886.8" y2="281.3"/>
<line x1="875.8" y1="239.7" x2="886.8" y2="239.7"/>
<line x1="880.8" y1="198.0" x2="886.8" y2="198.0"/>
<line x1="875.8" y1="156.4" x2="886.8" y2="156.4"/>
<line x1="880.8" y1="114.7" x2="886.8" y2="114.7"/>
<line x1="875.8" y1="73.1" x2="886.8" y2="73.1"/>
<line x1="880.8" y1="31.4" x2="886.8" y2="31.4"/>
<line x1="886.8" y1="545.6" x2="886.8" y2="556.6"/>
<line x1="1007.9" y1="545.6" x2="1007.9" y2="551.6"/>
<line x1="1129.0" y1="545.6" x2="1129.0" y2="556.6"/>
<line x1="1250.2" y1="545.6" x2="1250.2" y2="551.6"/>
<line x1="1371.3" y1="545.6" x2="1371.3" y2="556.6"/>
<line x1="1492.4" y1="545.6" x2="1492.4" y2="551.6"/>
</g>
<g class="ser" font-size="27" text-anchor="end" fill="#000">
<text x="869" y="81.8">1.5</text>
<text x="869" y="165.1">1.2</text>
<text x="869" y="248.4">0.9</text>
<text x="869" y="331.7">0.6</text>
<text x="869" y="415.0">0.3</text>
<text x="869" y="498.3">0.0</text>
</g>
<g class="ser" font-size="27" text-anchor="middle" fill="#000">
<text x="886.8" y="585.6">500</text>
<text x="1129.0" y="585.6">600</text>
<text x="1371.3" y="585.6">700</text>
</g>
<text class="ser" font-size="26.5" x="1189.6" y="632.8" text-anchor="middle">Wavelength (nm)</text>
<text class="ser" font-size="28.6" transform="translate(807,271) rotate(-90)" text-anchor="middle">Absorbance (a.u.)</text>
<text class="san" font-size="30" x="1141.7" y="676.5" text-anchor="middle">b</text>
<line x1="898" y1="52.3" x2="938" y2="52.3" stroke="#000000" stroke-width="3.7" stroke-linecap="round"/>
<text class="ser" font-size="24" transform="translate(944,59.3) scale(1,1.16)">4000 mJ/cm<tspan font-size="16" dy="-8.6">2</tspan></text>
<line x1="898" y1="95.0" x2="938" y2="95.0" stroke="#f81a00" stroke-width="3.7" stroke-linecap="round"/>
<text class="ser" font-size="24" transform="translate(944,102.0) scale(1,1.16)">3000 mJ/cm<tspan font-size="16" dy="-8.6">2</tspan></text>
<line x1="898" y1="137.8" x2="938" y2="137.8" stroke="#1020ff" stroke-width="3.7" stroke-linecap="round"/>
<text class="ser" font-size="24" transform="translate(944,144.8) scale(1,1.16)">2000 mJ/cm<tspan font-size="16" dy="-8.6">2</tspan></text>
<line x1="898" y1="180.6" x2="938" y2="180.6" stroke="#088080" stroke-width="3.7" stroke-linecap="round"/>
<text class="ser" font-size="24" transform="translate(944,187.6) scale(1,1.16)">1000 mJ/cm<tspan font-size="16" dy="-8.6">2</tspan></text>
<line x1="898" y1="223.3" x2="938" y2="223.3" stroke="#ff25ff" stroke-width="3.7" stroke-linecap="round"/>
<text class="ser" font-size="24" transform="translate(944,230.3) scale(1,1.16)">500 mJ/cm<tspan font-size="16" dy="-8.6">2</tspan></text>
<line x1="898" y1="266.1" x2="938" y2="266.1" stroke="#828008" stroke-width="3.7" stroke-linecap="round"/>
<text class="ser" font-size="24" transform="translate(944,273.1) scale(1,1.16)">300 mJ/cm<tspan font-size="16" dy="-8.6">2</tspan></text>
</svg>
</body></html>
